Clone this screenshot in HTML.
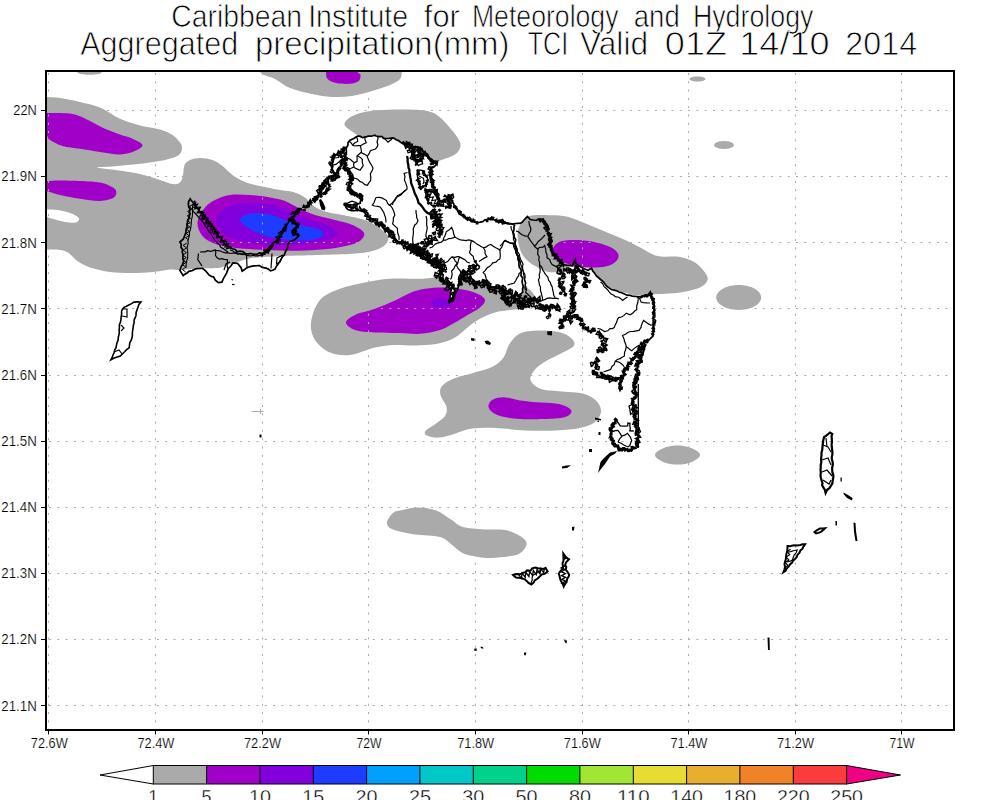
<!DOCTYPE html><html><head><meta charset="utf-8"><style>html,body{margin:0;padding:0;background:#fff}svg{display:block}text{font-family:"Liberation Sans",sans-serif;fill:#000}</style></head><body>
<svg width="1000" height="800" viewBox="0 0 1000 800">
<rect width="1000" height="800" fill="#fff"/>
<defs><clipPath id="c"><rect x="46" y="71" width="908" height="659"/></clipPath></defs>
<g clip-path="url(#c)">
<path d="M30.0,97.0C32.7,71.7 41.0,96.8 46.0,97.0C51.0,97.2 54.3,97.2 60.0,98.0C65.7,98.8 73.3,100.4 80.0,102.0C86.7,103.6 93.3,104.7 100.0,107.5C106.7,110.3 113.3,115.8 120.0,118.8C126.7,121.8 133.3,123.7 140.0,125.5C146.7,127.3 154.6,127.9 160.0,129.5C165.4,131.1 169.2,132.8 172.5,135.0C175.8,137.2 178.4,140.3 180.0,142.5C181.6,144.7 182.2,145.9 182.0,148.0C181.8,150.1 181.6,153.0 178.8,155.0C175.9,157.0 171.5,158.5 165.0,160.0C158.5,161.5 148.3,162.7 140.0,163.8C131.7,164.8 122.2,165.6 115.0,166.2C107.8,166.9 97.0,166.9 97.0,167.5C97.0,168.1 107.8,168.9 115.0,170.0C122.2,171.1 132.5,172.3 140.0,174.0C147.5,175.7 154.6,178.3 160.0,180.0C165.4,181.7 169.2,183.6 172.5,184.0C175.8,184.4 178.2,184.0 180.0,182.5C181.8,181.0 182.2,177.9 183.0,175.0C183.8,172.1 183.3,167.5 184.5,165.0C185.7,162.5 187.4,161.2 190.0,160.0C192.6,158.8 196.2,158.0 200.0,158.0C203.8,158.0 208.8,158.7 212.5,160.0C216.2,161.3 219.2,163.5 222.5,166.0C225.8,168.5 228.8,172.3 232.5,175.0C236.2,177.7 240.4,180.2 245.0,182.0C249.6,183.8 254.2,184.7 260.0,186.0C265.8,187.3 274.5,189.0 280.0,190.0C285.5,191.0 288.8,190.8 293.0,192.0C297.2,193.2 301.3,195.0 305.0,197.5C308.7,200.0 311.3,204.6 315.0,207.0C318.7,209.4 322.0,210.6 327.0,212.0C332.0,213.4 338.7,214.2 345.0,215.5C351.3,216.8 359.5,218.1 365.0,220.0C370.5,221.9 374.2,224.3 378.0,227.0C381.8,229.7 386.8,233.0 388.0,236.0C389.2,239.0 387.6,242.5 385.0,245.0C382.4,247.5 377.9,249.5 372.5,251.0C367.1,252.5 361.2,253.1 352.5,253.8C343.8,254.4 330.4,254.7 320.0,255.0C309.6,255.3 297.5,255.5 290.0,255.8C282.5,256.0 280.0,256.2 275.0,256.5C270.0,256.8 264.5,256.9 260.0,257.2C255.5,257.6 251.2,258.1 248.0,258.8C244.8,259.4 243.5,260.1 240.5,261.0C237.5,261.9 233.5,262.9 230.0,264.0C226.5,265.1 224.5,267.0 219.5,267.8C214.5,268.5 206.6,268.1 200.0,268.5C193.4,268.9 185.0,269.8 180.0,270.0C175.0,270.2 174.6,269.2 170.0,269.5C165.4,269.8 159.2,271.4 152.5,272.0C145.8,272.6 137.1,273.0 130.0,273.0C122.9,273.0 116.7,272.9 110.0,272.0C103.3,271.1 95.4,269.3 90.0,267.5C84.6,265.7 81.7,263.8 77.5,261.0C73.3,258.2 70.2,252.9 65.0,251.0C59.8,249.1 51.8,249.8 46.0,249.5C40.2,249.2 32.7,274.4 30.0,249.0C27.3,223.6 27.3,122.3 30.0,97.0Z" fill="#aaaaaa"/>
<path d="M36.0,209.5C37.7,208.2 42.4,209.4 46.0,209.5C49.6,209.6 53.5,209.4 57.5,210.0C61.5,210.6 66.5,211.7 70.0,213.0C73.5,214.3 77.8,216.4 78.8,218.0C79.8,219.6 78.3,221.8 76.0,222.5C73.7,223.2 68.9,222.6 65.0,222.0C61.1,221.4 55.7,219.6 52.5,218.8C49.3,217.9 48.8,217.3 46.0,217.0C43.2,216.7 37.7,218.2 36.0,217.0C34.3,215.8 34.3,210.8 36.0,209.5Z" fill="#fff"/>
<path d="M255.0,55.0C231.0,57.8 256.7,68.0 260.0,72.0C263.3,76.0 270.0,76.3 275.0,79.0C280.0,81.7 283.8,85.5 290.0,88.0C296.2,90.5 305.0,92.5 312.0,94.0C319.0,95.5 325.3,96.7 332.0,97.0C338.7,97.3 345.3,97.0 352.0,96.0C358.7,95.0 365.7,92.8 372.0,91.0C378.3,89.2 385.3,87.0 390.0,85.0C394.7,83.0 398.0,81.3 400.0,79.0C402.0,76.7 401.3,75.0 402.0,71.0C402.7,67.0 428.5,57.7 404.0,55.0C379.5,52.3 279.0,52.2 255.0,55.0Z" fill="#aaaaaa"/>
<path d="M325.0,55.0C319.8,57.7 325.6,67.0 326.0,71.0C326.4,75.0 325.8,76.8 327.5,78.8C329.2,80.8 332.2,82.2 336.0,83.0C339.8,83.8 346.2,84.1 350.0,83.8C353.8,83.4 357.0,82.5 358.8,81.0C360.5,79.5 360.7,76.7 360.5,75.0C360.3,73.3 358.1,74.3 357.5,71.0C356.9,67.7 362.4,57.7 357.0,55.0C351.6,52.3 330.2,52.3 325.0,55.0Z" fill="#a000c8"/>
<path d="M76.0,62.0C71.7,63.7 75.5,69.9 77.0,72.0C78.5,74.1 82.0,74.1 85.0,74.5C88.0,74.9 92.2,74.9 95.0,74.5C97.8,74.1 100.7,74.1 102.0,72.0C103.3,69.9 107.3,63.7 103.0,62.0C98.7,60.3 80.3,60.3 76.0,62.0Z" fill="#aaaaaa"/>
<path d="M344.5,123.8C344.9,121.4 348.2,118.1 352.5,116.0C356.8,113.9 362.9,112.1 370.0,111.0C377.1,109.9 386.7,109.7 395.0,109.5C403.3,109.3 413.3,109.3 420.0,110.0C426.7,110.7 430.4,111.2 435.0,113.8C439.6,116.2 443.8,121.0 447.5,125.0C451.2,129.0 455.3,134.0 457.5,137.5C459.7,141.0 460.8,143.3 460.5,146.0C460.2,148.7 458.6,151.6 456.0,153.8C453.4,155.9 448.8,157.4 445.0,158.8C441.2,160.1 437.2,162.1 433.0,162.0C428.8,161.9 424.7,160.0 420.0,158.0C415.3,156.0 410.0,152.5 405.0,150.0C400.0,147.5 395.0,144.8 390.0,143.0C385.0,141.2 380.0,140.2 375.0,139.0C370.0,137.8 364.2,137.5 360.0,136.0C355.8,134.5 352.6,132.0 350.0,130.0C347.4,128.0 344.1,126.1 344.5,123.8Z" fill="#aaaaaa"/>
<path d="M311.0,322.5C311.8,315.8 315.2,305.6 320.0,300.0C324.8,294.4 332.5,291.7 340.0,288.8C347.5,285.8 356.7,284.2 365.0,282.5C373.3,280.8 380.8,279.4 390.0,278.8C399.2,278.1 411.7,279.0 420.0,278.8C428.3,278.5 433.3,277.6 440.0,277.0C446.7,276.4 451.7,275.2 460.0,275.0C468.3,274.8 480.8,274.8 490.0,276.0C499.2,277.2 508.3,279.7 515.0,282.0C521.7,284.3 526.5,287.0 530.0,290.0C533.5,293.0 536.0,297.1 536.0,300.0C536.0,302.9 534.3,305.8 530.0,307.5C525.7,309.2 515.8,309.2 510.0,310.0C504.2,310.8 500.0,311.0 495.0,312.5C490.0,314.0 484.6,316.2 480.0,318.8C475.4,321.2 471.7,324.4 467.5,327.5C463.3,330.6 460.0,334.8 455.0,337.5C450.0,340.2 444.2,342.4 437.5,343.8C430.8,345.1 422.1,345.3 415.0,345.5C407.9,345.7 401.7,344.7 395.0,345.0C388.3,345.3 382.5,345.8 375.0,347.5C367.5,349.2 357.5,354.2 350.0,355.0C342.5,355.8 335.8,355.0 330.0,352.5C324.2,350.0 318.2,345.0 315.0,340.0C311.8,335.0 310.2,329.2 311.0,322.5Z" fill="#aaaaaa"/>
<path d="M346.0,322.5C346.0,320.0 350.2,317.3 355.0,315.0C359.8,312.7 368.3,311.2 375.0,308.8C381.7,306.3 389.2,303.1 395.0,300.5C400.8,297.9 405.0,295.0 410.0,293.0C415.0,291.0 419.2,289.7 425.0,288.8C430.8,287.8 438.8,287.4 445.0,287.5C451.2,287.6 457.1,288.5 462.5,289.5C467.9,290.5 473.8,292.0 477.5,293.8C481.2,295.5 484.6,297.7 485.0,300.0C485.4,302.3 482.9,305.0 480.0,307.5C477.1,310.0 471.7,312.5 467.5,315.0C463.3,317.5 459.6,320.0 455.0,322.5C450.4,325.0 445.8,328.1 440.0,330.0C434.2,331.9 426.7,333.2 420.0,333.8C413.3,334.2 407.5,333.2 400.0,333.0C392.5,332.8 382.5,333.0 375.0,332.5C367.5,332.0 359.8,331.7 355.0,330.0C350.2,328.3 346.0,325.0 346.0,322.5Z" fill="#a000c8"/>
<path d="M451.0,303.0C451.0,303.8 450.5,304.6 449.7,305.2C448.8,305.9 447.4,306.5 446.0,306.9C444.6,307.3 442.7,307.5 441.0,307.5C439.3,307.5 437.4,307.3 436.0,306.9C434.6,306.5 433.2,305.9 432.3,305.2C431.5,304.6 431.0,303.8 431.0,303.0C431.0,302.2 431.5,301.4 432.3,300.8C433.2,300.1 434.6,299.5 436.0,299.1C437.4,298.7 439.3,298.5 441.0,298.5C442.7,298.5 444.6,298.7 446.0,299.1C447.4,299.5 448.8,300.1 449.7,300.8C450.5,301.4 451.0,302.2 451.0,303.0Z" fill="#8200dc"/>
<path d="M527.6,216.8C532.9,214.3 543.3,215.2 550.0,215.2C556.7,215.2 561.5,215.3 567.6,216.8C573.7,218.3 580.4,221.5 586.8,224.0C593.2,226.5 599.6,229.3 606.0,232.0C612.4,234.7 619.3,237.3 625.2,240.0C631.1,242.7 635.8,245.3 641.2,248.0C646.6,250.7 651.0,254.5 657.5,256.0C664.0,257.5 673.8,255.9 680.0,257.0C686.2,258.1 690.8,259.9 695.0,262.5C699.2,265.1 702.9,269.6 705.0,272.5C707.1,275.4 708.3,277.5 707.5,280.0C706.7,282.5 704.6,285.4 700.0,287.5C695.4,289.6 688.3,291.3 680.0,292.5C671.7,293.7 659.2,293.9 650.0,294.5C640.8,295.1 633.3,296.8 625.0,296.0C616.7,295.2 607.5,292.7 600.0,290.0C592.5,287.3 587.0,282.8 580.0,280.0C573.0,277.2 563.3,274.3 558.0,273.0C552.7,271.7 551.9,273.0 548.4,272.0C544.9,271.0 540.9,269.3 537.2,267.2C533.5,265.1 528.9,262.4 526.0,259.2C523.1,256.0 520.9,252.8 519.6,248.0C518.3,243.2 516.7,235.6 518.0,230.4C519.3,225.2 522.3,219.3 527.6,216.8Z" fill="#aaaaaa"/>
<path d="M552.4,254.4C552.0,252.3 552.5,248.6 554.0,246.4C555.5,244.2 557.3,242.4 561.2,241.3C565.1,240.2 571.3,239.8 577.2,240.0C583.1,240.2 590.8,241.2 596.4,242.4C602.0,243.6 607.2,245.3 610.8,247.2C614.4,249.1 616.9,251.5 618.0,253.6C619.1,255.7 618.7,258.0 617.2,260.0C615.7,262.0 612.7,264.4 609.2,265.6C605.7,266.9 601.2,267.4 596.4,267.5C591.6,267.6 585.5,267.1 580.4,266.4C575.3,265.7 570.0,264.4 566.0,263.2C562.0,262.0 558.7,260.7 556.4,259.2C554.1,257.7 552.8,256.5 552.4,254.4Z" fill="#a000c8"/>
<path d="M197.5,222.5C197.9,217.8 202.1,211.2 205.0,207.5C207.9,203.8 210.8,202.1 215.0,200.0C219.2,197.9 224.2,195.8 230.0,195.0C235.8,194.2 243.3,194.6 250.0,195.0C256.7,195.4 264.2,196.5 270.0,197.5C275.8,198.5 280.0,199.1 285.0,201.0C290.0,202.9 295.0,206.4 300.0,208.8C305.0,211.1 309.2,213.1 315.0,215.0C320.8,216.9 328.8,218.3 335.0,220.0C341.2,221.7 347.7,222.9 352.5,225.0C357.3,227.1 362.3,230.0 363.8,232.5C365.2,235.0 363.3,237.9 361.0,240.0C358.7,242.1 355.2,243.5 350.0,245.0C344.8,246.5 337.5,247.8 330.0,248.8C322.5,249.7 313.3,250.2 305.0,250.5C296.7,250.8 288.3,250.7 280.0,250.5C271.7,250.3 262.9,250.0 255.0,249.5C247.1,249.0 239.2,248.5 232.5,247.5C225.8,246.5 220.0,245.7 215.0,243.8C210.0,241.8 205.4,239.5 202.5,236.0C199.6,232.5 197.1,227.2 197.5,222.5Z" fill="#a000c8"/>
<path d="M216.0,220.0C216.2,216.1 220.4,211.7 224.0,209.0C227.6,206.3 231.9,205.0 237.5,204.0C243.1,203.0 250.8,202.7 257.5,203.0C264.2,203.3 271.2,204.2 277.5,206.0C283.8,207.8 288.8,211.5 295.0,214.0C301.2,216.5 309.2,219.0 315.0,221.0C320.8,223.0 326.2,224.1 330.0,226.0C333.8,227.9 337.5,230.3 337.5,232.5C337.5,234.7 334.6,237.2 330.0,239.0C325.4,240.8 317.5,242.0 310.0,243.0C302.5,244.0 293.3,244.8 285.0,245.0C276.7,245.2 267.9,244.8 260.0,244.0C252.1,243.2 243.8,241.9 237.5,240.0C231.2,238.1 226.1,235.8 222.5,232.5C218.9,229.2 215.8,223.9 216.0,220.0Z" fill="#8200dc"/>
<path d="M240.0,220.0C239.6,217.9 242.5,216.2 245.0,215.0C247.5,213.8 250.8,213.1 255.0,213.0C259.2,212.9 265.0,213.3 270.0,214.5C275.0,215.7 279.6,218.2 285.0,220.0C290.4,221.8 297.1,224.0 302.5,225.5C307.9,227.0 314.0,227.4 317.5,228.8C321.0,230.1 323.8,232.1 323.8,233.8C323.8,235.4 321.5,237.6 317.5,238.8C313.5,239.9 306.2,240.5 300.0,240.5C293.8,240.5 286.2,239.7 280.0,238.8C273.8,237.8 267.9,236.9 262.5,235.0C257.1,233.1 251.2,230.0 247.5,227.5C243.8,225.0 240.4,222.1 240.0,220.0Z" fill="#1e3cff"/>
<path d="M36.0,113.0C37.7,109.7 42.0,113.0 46.0,113.0C50.0,113.0 55.2,112.8 60.0,113.0C64.8,113.2 70.0,113.2 75.0,114.5C80.0,115.8 85.0,118.6 90.0,121.0C95.0,123.4 100.0,126.5 105.0,128.8C110.0,131.0 115.4,132.8 120.0,134.5C124.6,136.2 128.8,137.0 132.5,138.8C136.2,140.5 142.1,143.0 142.5,145.0C142.9,147.0 138.8,149.4 135.0,151.0C131.2,152.6 125.8,154.3 120.0,154.5C114.2,154.7 106.7,153.0 100.0,152.0C93.3,151.0 86.2,149.8 80.0,148.8C73.8,147.8 67.5,147.5 62.5,146.0C57.5,144.5 52.8,141.8 50.0,140.0C47.2,138.2 48.3,136.2 46.0,135.0C43.7,133.8 37.7,136.7 36.0,133.0C34.3,129.3 34.3,116.3 36.0,113.0Z" fill="#a000c8"/>
<path d="M36.0,181.0C37.7,179.5 42.0,181.1 46.0,181.0C50.0,180.9 54.3,180.5 60.0,180.5C65.7,180.5 73.3,180.7 80.0,181.0C86.7,181.3 95.0,181.7 100.0,182.5C105.0,183.3 107.3,184.7 110.0,186.0C112.7,187.3 115.4,188.6 116.0,190.5C116.6,192.4 116.4,195.8 113.8,197.5C111.1,199.2 105.6,200.8 100.0,201.0C94.4,201.2 86.7,199.8 80.0,198.8C73.3,197.8 65.7,196.3 60.0,195.0C54.3,193.7 50.0,191.8 46.0,191.0C42.0,190.2 37.7,191.7 36.0,190.0C34.3,188.3 34.3,182.5 36.0,181.0Z" fill="#a000c8"/>
<path d="M509.5,344.0C512.2,340.0 515.2,335.8 520.0,333.5C524.8,331.2 531.5,330.8 538.0,330.5C544.5,330.2 553.5,330.8 559.0,332.0C564.5,333.2 568.5,335.8 571.0,338.0C573.5,340.2 575.5,343.0 574.0,345.5C572.5,348.0 566.5,350.5 562.0,353.0C557.5,355.5 551.5,357.8 547.0,360.5C542.5,363.2 537.8,366.2 535.0,369.5C532.2,372.8 529.5,376.8 530.5,380.0C531.5,383.2 535.8,387.1 541.0,389.0C546.2,390.9 555.0,390.6 562.0,391.4C569.0,392.1 577.2,391.9 583.0,393.5C588.8,395.1 593.5,398.0 596.5,401.0C599.5,404.0 601.2,408.0 601.0,411.5C600.8,415.0 598.5,419.2 595.0,422.0C591.5,424.8 586.5,426.6 580.0,428.0C573.5,429.4 565.0,430.0 556.0,430.4C547.0,430.8 536.0,430.8 526.0,430.4C516.0,430.0 505.0,428.3 496.0,428.0C487.0,427.7 479.0,427.6 472.0,428.6C465.0,429.6 459.5,432.5 454.0,434.0C448.5,435.5 443.5,437.4 439.0,437.6C434.5,437.9 429.2,436.6 427.0,435.5C424.8,434.4 424.0,433.0 425.5,431.0C427.0,429.0 432.8,426.0 436.0,423.5C439.2,421.0 443.2,418.8 445.0,416.0C446.8,413.2 447.2,410.5 446.5,407.0C445.8,403.5 441.2,398.5 440.5,395.0C439.8,391.5 439.8,388.8 442.0,386.0C444.2,383.2 448.5,380.8 454.0,378.5C459.5,376.2 468.5,374.5 475.0,372.5C481.5,370.5 488.2,369.0 493.0,366.5C497.8,364.0 500.8,361.2 503.5,357.5C506.2,353.8 506.8,348.0 509.5,344.0Z" fill="#aaaaaa"/>
<path d="M488.5,405.5C488.8,403.5 490.2,400.9 493.0,399.5C495.8,398.1 500.5,397.2 505.0,397.4C509.5,397.5 514.0,399.5 520.0,400.4C526.0,401.2 534.5,401.9 541.0,402.5C547.5,403.1 554.2,403.0 559.0,404.0C563.8,405.0 567.5,407.0 569.5,408.5C571.5,410.0 572.0,411.5 571.0,413.0C570.0,414.5 568.0,416.5 563.5,417.5C559.0,418.5 551.2,418.8 544.0,419.0C536.8,419.2 527.0,419.4 520.0,419.0C513.0,418.6 506.8,417.9 502.0,416.6C497.2,415.4 493.8,413.4 491.5,411.5C489.2,409.6 488.2,407.5 488.5,405.5Z" fill="#a000c8"/>
<path d="M387.0,522.0C387.5,519.5 390.8,514.9 393.0,513.0C395.2,511.1 395.8,511.4 400.0,510.5C404.2,509.6 412.0,507.5 418.0,507.5C424.0,507.5 430.5,508.5 436.0,510.5C441.5,512.5 446.5,516.8 451.0,519.5C455.5,522.2 457.5,525.4 463.0,527.0C468.5,528.6 477.0,528.9 484.0,529.4C491.0,529.9 499.0,528.9 505.0,530.0C511.0,531.1 516.4,533.7 520.0,536.0C523.6,538.3 526.8,541.0 526.6,544.0C526.4,547.0 522.9,551.8 518.8,554.0C514.6,556.2 506.9,556.3 502.0,557.0C497.1,557.7 493.5,558.0 489.5,558.0C485.5,558.0 482.5,557.8 478.0,557.0C473.5,556.2 467.0,555.2 462.5,553.0C458.0,550.8 454.8,546.7 451.0,544.0C447.2,541.3 446.0,538.6 440.0,537.0C434.0,535.4 421.7,535.4 415.0,534.5C408.3,533.6 404.2,532.6 400.0,531.5C395.8,530.4 392.2,529.6 390.0,528.0C387.8,526.4 386.5,524.5 387.0,522.0Z" fill="#aaaaaa"/>
<path d="M761.2,297.5C761.2,299.6 760.1,301.9 758.2,303.8C756.4,305.6 753.2,307.3 750.0,308.3C746.8,309.4 742.5,310.0 738.8,310.0C735.0,310.0 730.7,309.4 727.5,308.3C724.3,307.3 721.1,305.6 719.3,303.8C717.4,301.9 716.2,299.6 716.2,297.5C716.2,295.4 717.4,293.1 719.3,291.2C721.1,289.4 724.3,287.7 727.5,286.7C730.7,285.6 735.0,285.0 738.8,285.0C742.5,285.0 746.8,285.6 750.0,286.7C753.2,287.7 756.4,289.4 758.2,291.2C760.1,293.1 761.2,295.4 761.2,297.5Z" fill="#aaaaaa"/>
<path d="M700.0,455.0C700.0,456.3 698.9,457.6 697.0,458.9C695.1,460.2 692.0,462.0 688.8,463.0C685.5,463.9 681.2,464.6 677.5,464.6C673.8,464.6 669.5,463.9 666.2,463.0C663.0,462.0 659.9,460.2 658.0,458.9C656.1,457.6 655.0,456.3 655.0,455.0C655.0,453.7 656.1,452.4 658.0,451.1C659.9,449.8 663.0,448.0 666.2,447.0C669.5,446.1 673.8,445.4 677.5,445.4C681.2,445.4 685.5,446.1 688.8,447.0C692.0,448.0 695.1,449.8 697.0,451.1C698.9,452.4 700.0,453.7 700.0,455.0Z" fill="#aaaaaa"/>
<path d="M705.5,79.0C705.5,79.4 705.1,79.9 704.4,80.2C703.8,80.6 702.7,81.0 701.5,81.2C700.3,81.4 698.8,81.5 697.5,81.5C696.2,81.5 694.7,81.4 693.5,81.2C692.3,81.0 691.2,80.6 690.6,80.2C689.9,79.9 689.5,79.4 689.5,79.0C689.5,78.6 689.9,78.1 690.6,77.8C691.2,77.4 692.3,77.0 693.5,76.8C694.7,76.6 696.2,76.5 697.5,76.5C698.8,76.5 700.3,76.6 701.5,76.8C702.7,77.0 703.8,77.4 704.4,77.8C705.1,78.1 705.5,78.6 705.5,79.0Z" fill="#aaaaaa"/>
<path d="M734.0,145.0C734.0,145.7 733.5,146.4 732.7,147.0C731.8,147.6 730.4,148.1 729.0,148.5C727.6,148.8 725.7,149.0 724.0,149.0C722.3,149.0 720.4,148.8 719.0,148.5C717.6,148.1 716.2,147.6 715.3,147.0C714.5,146.4 714.0,145.7 714.0,145.0C714.0,144.3 714.5,143.6 715.3,143.0C716.2,142.4 717.6,141.9 719.0,141.5C720.4,141.2 722.3,141.0 724.0,141.0C725.7,141.0 727.6,141.2 729.0,141.5C730.4,141.9 731.8,142.4 732.7,143.0C733.5,143.6 734.0,144.3 734.0,145.0Z" fill="#aaaaaa"/>
<g stroke="#aaaaaa" stroke-width="1" fill="none">
<path d="M48.5,73V730" stroke-dasharray="2 6.3"/>
<path d="M155.5,73V730" stroke-dasharray="2 6.3"/>
<path d="M262.5,73V730" stroke-dasharray="2 6.3"/>
<path d="M368.5,73V730" stroke-dasharray="2 6.3"/>
<path d="M475.5,73V730" stroke-dasharray="2 6.3"/>
<path d="M582.5,73V730" stroke-dasharray="2 6.3"/>
<path d="M688.5,73V730" stroke-dasharray="2 6.3"/>
<path d="M795.5,73V730" stroke-dasharray="2 6.3"/>
<path d="M901.5,73V730" stroke-dasharray="2 6.3"/>
<path d="M49,110.5H954" stroke-dasharray="2 6.3"/>
<path d="M49,176.5H954" stroke-dasharray="2 6.3"/>
<path d="M49,242.5H954" stroke-dasharray="2 6.3"/>
<path d="M49,308.5H954" stroke-dasharray="2 6.3"/>
<path d="M49,375.5H954" stroke-dasharray="2 6.3"/>
<path d="M49,441.5H954" stroke-dasharray="2 6.3"/>
<path d="M49,507.5H954" stroke-dasharray="2 6.3"/>
<path d="M49,573.5H954" stroke-dasharray="2 6.3"/>
<path d="M49,639.5H954" stroke-dasharray="2 6.3"/>
<path d="M49,705.5H954" stroke-dasharray="2 6.3"/>
</g>
<path d="M348.0,142.5L357.0,135.8L366.0,137.2L374.2,134.7L384.0,138.0L394.5,138.8L403.5,143.2L411.0,147.0L420.0,148.5L427.5,155.2L433.5,162.0L436.5,165.0L432.0,168.0L430.5,177.0L433.5,186.0L438.0,198.0L444.0,203.0L449.2,195.0L452.0,201.0L454.5,205.5L459.5,213.5L467.0,218.8L477.5,222.5L488.0,219.5L498.5,221.0L507.5,224.0L514.0,224.5L514.0,232.0L516.0,246.0L519.0,262.0L522.0,278.0L523.0,292.0L515.0,296.0L506.0,292.0L500.0,288.0L491.0,286.0L485.0,282.0L476.0,283.0L470.0,276.0L476.0,266.0L467.0,272.0L459.5,279.5L458.0,290.0L453.5,296.0L449.8,302.8L451.0,290.0L447.5,282.5L440.0,278.0L440.0,267.5L434.0,260.0L423.5,258.5L413.0,251.0L402.5,244.2L392.0,237.5L383.0,227.0L375.0,220.5L367.5,216.0L363.0,210.0L348.0,210.0L345.0,205.5L360.0,204.0L361.5,196.5L352.5,193.5L349.5,184.5L352.5,177.0L345.8,168.0L345.0,156.0Z" fill="#fff"/>
<path d="M562.0,272.0L567.6,266.8L577.2,267.0L582.0,267.6L590.0,268.8L596.4,276.8L606.0,284.8L615.6,291.2L625.2,292.8L638.0,296.0L647.6,296.0L650.0,292.8L652.4,300.8L654.8,312.0L654.0,328.0L653.8,332.5L645.0,342.5L640.0,355.0L631.0,368.0L622.0,385.0L620.0,377.5L607.5,380.0L595.0,375.0L593.8,362.5L600.0,350.0L597.5,332.5L582.5,327.5L575.0,315.0L570.8,302.4L570.8,283.2Z" fill="#fff"/>
<g fill="none" stroke="#000" stroke-linejoin="miter">
<path d="M141.0,302.0L137.2,301.9L133.9,302.1L131.5,303.6L128.8,305.0L126.5,306.2L124.3,307.1L122.4,309.1L121.6,311.2L121.6,314.7L121.1,316.9L121.0,319.3L120.4,322.3L119.4,324.6L119.4,327.8L119.1,330.1L119.3,332.4L119.0,334.6L118.3,337.2L118.2,339.9L117.1,342.6L116.5,344.8L116.0,347.7L114.7,350.1L114.0,352.8L113.2,354.5L112.5,356.7L110.9,359.8L113.7,358.3L116.5,357.3L120.3,356.1L122.6,353.7L124.6,351.8L126.6,349.6L129.1,347.9L129.5,345.2L129.8,342.7L131.1,340.5L132.1,337.3L132.4,335.2L132.4,332.5L132.8,329.6L133.1,327.8L133.5,324.7L134.1,322.9L134.1,319.9L135.1,317.9L136.0,315.4L136.1,312.4L136.8,310.4L138.0,307.2L138.9,304.5Z" stroke-width="1.6"/>
<path d="M123.0,309.0L127.0,309.0L127.0,317.0L122.0,316.0" stroke-width="1.2"/>
<path d="M114.0,352.0L119.0,350.0L122.0,354.0" stroke-width="1.2"/>
<path d="M121.0,325.0L124.0,328.0L121.0,331.0" stroke-width="1.2"/>
<path d="M190.2,198.8L191.6,201.0L193.9,202.9L194.8,205.4L196.8,207.8L199.1,210.1L200.0,212.2L202.2,213.2L204.6,216.1L206.5,217.9L207.8,219.9L209.4,222.7L211.4,224.4L213.1,226.8L214.8,228.9L215.8,231.3L217.4,233.8L218.8,236.8L221.2,238.0L222.2,240.5L223.8,242.5L226.5,245.4L228.0,246.3L229.4,247.4L232.3,248.7L235.5,249.5L236.8,251.6L240.2,251.1L242.8,251.6L245.4,253.5L248.5,253.8L250.7,253.5L253.5,254.2L257.0,254.4L259.3,252.9L262.4,253.3L265.0,252.4L267.4,250.3L269.1,248.0L271.8,245.3L273.3,243.2L275.7,241.3L278.6,238.4L280.1,236.7L281.6,233.3L282.1,230.6L283.6,228.1L285.7,226.6L287.5,223.5L288.7,221.9L289.4,219.7L292.1,217.9L294.9,220.5L295.5,223.2L297.3,225.4L296.7,227.4L294.4,230.6L293.3,232.0L295.1,233.5L298.8,235.9L295.5,239.0L293.7,240.2L289.8,241.6L288.0,243.8L287.7,247.7L286.0,250.6L284.9,253.0L284.5,254.6L282.2,257.2L280.6,260.1L279.2,262.4L277.5,265.1L276.3,266.4L275.1,269.1L272.6,270.2L270.5,270.8L268.3,269.0L265.9,268.1L262.3,267.4L259.5,265.5L257.3,265.7L253.8,265.9L251.1,266.4L248.2,267.3L246.1,268.2L244.6,269.6L242.1,271.1L241.1,267.7L239.2,265.4L237.5,263.3L232.9,263.0L231.2,265.5L229.8,267.2L228.4,268.2L227.1,271.6L226.7,273.0L225.0,275.9L223.4,278.6L221.9,282.2L218.4,282.6L215.3,280.1L213.7,277.0L212.0,276.7L209.1,275.1L207.4,273.0L205.9,271.2L202.5,268.4L200.0,268.5L196.6,268.7L194.8,269.2L192.1,270.6L188.8,271.3L187.4,272.7L184.4,274.5L183.2,275.7L181.1,272.2L179.9,270.4L181.2,266.5L182.4,264.6L183.9,260.7L182.8,258.6L183.1,255.3L182.2,251.4L182.5,249.3L181.0,247.4L181.3,244.5L179.9,242.0L183.4,239.0L184.8,235.3L185.7,233.1L186.2,229.0L187.1,226.5L187.1,223.8L187.6,221.2L188.5,218.7L189.5,215.7L189.6,212.5L189.8,209.3L188.7,206.3L188.3,204.1L188.7,201.3Z" stroke-width="1.7"/>
<path d="M195.1,200.5L192.2,205.3L197.7,204.1L194.7,208.9L200.3,207.6L197.3,212.4L202.8,211.2L199.9,216.0L205.4,214.8L202.5,219.6L208.0,218.3L205.0,223.2L210.5,221.9L207.6,226.7L213.1,225.5" stroke-width="1.1"/>
<path d="M213.0,225.3L210.6,230.5L216.1,229.0L213.8,234.2L219.3,232.6L216.9,237.9L222.5,236.3L220.1,241.5L225.6,240.0L223.3,245.2L228.8,243.6L226.4,248.9L232.0,247.3" stroke-width="1.1"/>
<path d="M196.1,201.5L193.9,207.3L200.1,207.0L197.9,212.9L204.1,212.6L201.9,218.4L208.1,218.1L205.9,224.0L212.1,223.7L209.9,229.5" stroke-width="1.1"/>
<path d="M214.0,226.3L212.1,232.2L218.2,231.3L216.4,237.2L222.5,236.3L220.6,242.2L226.7,241.3L224.9,247.2L231.0,246.3" stroke-width="1.1"/>
<path d="M188.0,206.0L190.3,207.7L192.3,209.9L194.0,212.3L195.9,214.0L197.9,216.4L199.4,218.3L201.4,220.1L202.9,221.9L204.1,224.0L205.7,226.7L207.3,228.5L208.7,231.3L210.8,233.4L211.8,235.3L213.3,237.7L214.7,240.0L216.8,242.7L219.4,244.7L220.8,247.4L223.2,248.6L225.3,250.2L228.0,252.0" stroke-width="1.2"/>
<path d="M192.5,206.0L192.6,209.0L192.5,212.0L192.5,214.8L192.1,217.4L191.5,219.5L191.3,222.2L191.1,225.0L190.8,227.7L190.2,230.4L189.4,232.3L189.5,234.6L188.8,237.6L187.8,240.3L188.3,242.6L187.7,245.3L187.1,247.6L187.5,250.5L187.8,253.1L187.6,255.8L187.7,258.2L186.9,260.0L186.4,262.9L186.0,265.8L186.0,268.0" stroke-width="1.1"/>
<path d="M191.8,205.2L188.0,207.0L191.4,209.5L187.6,211.4L191.0,213.9L187.3,215.8L190.7,218.3L186.9,220.2L190.3,222.7L186.5,224.5L189.9,227.0L186.1,228.9L189.5,231.4L185.8,233.3L189.2,235.8L185.4,237.7L188.8,240.2" stroke-width="1.0"/>
<path d="M186.8,243.1L183.1,245.4L186.6,247.9L183.0,250.2L186.5,252.7L182.8,255.0L186.3,257.6L182.6,259.9L186.1,262.4L182.5,264.7L186.0,267.2L182.3,269.5L185.8,272.1" stroke-width="1.0"/>
<path d="M200.0,252.0L202.6,251.9L205.2,251.8L207.5,250.6L210.4,251.3L212.5,250.8L215.2,249.9L215.8,252.7L215.4,255.2L216.8,257.6L219.5,259.0L221.7,258.6L224.3,259.4L227.4,259.7L227.4,261.9L227.0,265.2L227.8,268.5" stroke-width="1.2"/>
<path d="M215.0,250.5L217.8,250.7L220.1,250.8L221.9,251.7L225.2,252.8L227.7,252.7L230.0,253.5L232.5,253.0L235.6,253.2L238.2,254.4L239.3,253.8L242.9,254.6L245.0,254.0" stroke-width="1.2"/>
<path d="M246.5,254.0L247.0,267.0" stroke-width="1.2"/>
<path d="M272.0,253.5L271.0,268.5" stroke-width="1.2"/>
<path d="M198.5,253.5L197.8,259.5L202.0,266.0" stroke-width="1.2"/>
<path d="M283.0,255.0L277.0,258.0L276.5,264.0L280.0,262.0L283.0,255.0" stroke-width="1.2"/>
<path d="M230.0,250.0L232.6,250.8L235.0,252.4L237.7,253.1L240.1,253.6L243.5,253.9L245.8,254.9L248.4,255.7L250.2,256.0L253.0,255.3L255.0,255.9L258.0,255.8L260.3,255.2L263.1,255.0L266.0,254.0" stroke-width="1.2"/>
<path d="M263.3,253.8L261.8,256.0L260.7,254.1ZM265.9,249.9L266.7,252.6L264.4,253.4L263.9,250.2ZM268.6,250.5L268.3,253.1L267.0,251.9ZM267.4,249.3L268.6,248.2L270.5,249.3L268.9,251.5ZM270.5,248.9L269.2,249.6L268.6,248.0L269.4,246.7L271.0,247.4ZM271.5,248.1L269.6,246.3L271.0,245.3L272.5,246.6ZM273.4,245.4L271.9,245.0L271.9,244.0L273.3,243.8ZM278.6,243.4L274.6,242.0L277.4,240.7ZM279.8,239.4L279.8,240.8L277.4,240.9L277.6,238.9L279.3,238.5ZM275.8,237.0L279.0,235.8L279.2,237.8L276.9,238.2ZM280.8,237.2L279.9,236.8L280.9,235.5L281.7,236.7ZM282.8,233.7L279.8,234.8L278.6,233.2L280.9,231.6ZM283.5,232.2L282.6,231.5L282.8,230.0L283.9,230.1L284.7,230.6ZM285.9,229.0L285.8,230.8L283.7,230.3L283.4,229.3ZM286.5,227.1L286.1,228.5L285.4,228.2L284.5,227.1L284.8,226.7ZM286.7,225.4L285.1,226.2L285.0,224.2L286.7,224.0Z" stroke-width="1.3"/>
<path d="M224.0,270.0L226.0,264.0L230.0,262.0" stroke-width="1.2"/>
<path d="M231.5,279.5L233.0,280.0" stroke-width="1.2"/>
<path d="M232.0,284.5L234.5,284.5" stroke-width="1.2"/>
<path d="M292.4,218.3L291.5,218.2L291.4,217.0L292.2,216.6L292.9,217.4ZM294.1,215.5L294.8,216.0L293.8,216.9L293.2,216.1ZM295.1,212.9L291.4,214.1L292.7,211.7ZM297.8,213.8L295.8,214.7L293.7,213.5L296.2,210.8ZM298.4,212.7L296.9,211.8L298.6,210.4L299.1,212.3ZM299.1,211.0L297.1,210.6L296.7,209.3L298.7,208.5L299.3,209.7ZM300.7,210.0L299.4,209.2L299.8,208.5L301.4,208.6L301.7,209.3ZM304.8,209.2L305.3,210.3L304.4,210.5L303.3,209.9L304.0,209.4ZM305.2,207.6L302.8,207.3L303.8,205.2ZM306.9,205.6L307.6,207.3L305.9,207.9L304.5,206.1ZM307.0,205.2L309.4,205.1L309.2,206.8L306.7,206.4ZM307.8,202.4L309.8,203.0L309.5,203.9L307.9,204.5ZM309.8,203.0L311.2,202.7L311.0,204.4ZM311.9,202.3L309.4,201.3L310.3,199.5ZM314.1,199.6L313.0,199.7L312.6,198.8L313.2,198.4L314.0,198.5ZM315.6,200.5L314.2,200.3L314.0,199.2L315.2,198.9ZM314.3,196.7L316.2,196.7L315.9,198.5L314.2,199.2Z" stroke-width="1.4"/>
<path d="M290.9,218.3L291.2,219.1L290.2,220.9L288.4,219.9L288.9,218.7ZM294.0,220.7L291.5,220.6L292.8,218.2ZM292.3,223.9L291.8,222.8L292.2,222.0L293.5,222.5L293.8,223.3ZM296.0,224.6L295.0,224.2L294.8,223.4L296.2,222.9L296.3,224.0ZM299.3,224.2L298.1,226.2L296.8,225.1L298.1,223.0ZM296.2,227.6L295.9,226.4L297.5,225.6L298.2,227.5ZM294.8,227.9L296.2,228.7L294.9,230.5L293.4,229.8ZM295.8,232.1L295.5,231.2L296.1,230.7L296.6,231.7ZM294.3,232.9L292.2,233.0L291.8,231.9L292.5,230.1L294.1,230.5ZM294.7,235.1L293.0,235.4L292.4,233.0L294.9,233.1ZM297.9,233.7L298.7,234.7L297.7,236.1L297.0,235.0L297.0,233.6Z" stroke-width="1.4"/>
<path d="M315.7,200.5L314.8,202.4L312.6,200.3L314.0,199.9ZM314.3,200.6L313.9,199.0L315.6,196.9L316.7,199.7ZM316.5,199.9L315.8,198.4L316.8,197.5L317.9,198.2L317.5,199.7ZM318.2,194.8L319.1,196.7L318.1,197.5L316.8,196.0ZM319.4,193.1L320.1,193.8L319.8,194.6L318.7,194.0ZM319.9,191.9L318.6,193.6L316.6,190.7L318.6,189.2L319.7,190.3ZM320.6,193.2L320.4,191.8L321.7,191.5L321.6,193.1ZM322.1,189.6L321.0,190.6L319.0,190.1L320.0,187.7L321.4,187.8ZM323.8,187.8L321.1,188.7L321.3,186.3ZM324.8,184.5L326.2,186.1L322.5,187.3L322.2,184.2ZM324.9,185.1L324.7,185.9L324.1,186.2L323.5,185.5L324.2,184.5ZM325.3,183.3L325.6,180.6L327.1,182.6Z" stroke-width="1.4"/>
<path d="M318.4,193.8L318.3,192.1L320.2,191.6L320.3,193.5ZM321.3,190.7L319.2,190.2L319.4,188.9L321.3,189.0ZM322.1,189.9L320.2,188.8L321.3,187.4L323.0,187.6L323.5,188.7ZM321.1,186.3L320.1,187.5L319.0,187.0L319.3,185.7L320.6,185.7ZM321.3,185.1L322.0,183.8L322.7,185.5ZM324.5,183.8L323.6,184.7L322.5,183.6L322.2,182.9L324.0,182.8ZM322.8,182.8L324.4,181.0L325.6,182.7L323.7,183.8ZM326.7,183.1L327.0,182.0L327.7,182.1L327.7,183.2ZM326.5,181.3L328.3,180.0L328.7,182.9L326.6,182.4ZM326.4,183.7L327.1,183.0L327.9,183.6L326.9,184.4ZM328.6,185.3L328.5,184.7L329.1,184.2L329.9,184.3L329.6,185.4ZM328.8,185.4L330.5,186.7L328.8,187.5ZM327.9,188.7L330.2,189.1L327.8,190.9ZM328.4,189.0L327.8,190.8L325.9,190.0L326.9,187.8ZM325.8,190.7L326.9,192.9L325.2,193.1ZM324.5,192.9L326.2,193.4L325.5,194.5L323.8,193.9ZM323.5,194.4L322.1,193.6L323.9,192.4ZM322.1,196.4L320.9,197.3L319.9,195.8L321.3,194.6Z" stroke-width="1.4"/>
<path d="M325.5,179.3L325.8,181.5L324.0,180.8ZM328.1,180.1L326.7,178.9L327.9,177.5L329.2,178.5ZM328.0,178.4L327.0,177.3L328.7,177.1ZM330.0,178.2L328.9,176.3L330.4,175.9ZM332.8,175.5L333.2,177.9L331.7,177.4L330.9,176.0ZM334.5,174.9L334.3,176.8L332.6,176.3ZM335.0,175.2L335.9,173.9L336.9,174.6L336.8,176.3ZM335.2,173.9L333.6,173.9L334.4,172.9ZM335.3,178.2L334.7,175.1L337.0,176.8ZM337.1,178.1L338.6,174.9L339.5,177.4ZM335.2,180.2L333.7,179.9L334.0,178.4L336.1,178.6ZM332.6,179.7L334.5,180.3L333.0,181.2ZM331.1,180.9L331.5,178.7L332.7,179.3L333.2,180.8Z" stroke-width="1.4"/>
<path d="M333.0,172.0L332.4,169.1L332.2,164.2L332.8,162.1L333.7,158.1L334.6,156.1L337.6,153.3L341.7,151.7L340.6,154.8L342.2,156.8L342.5,160.8L340.9,162.9L341.0,165.3L339.5,167.6L338.5,171.5L335.9,173.3Z" stroke-width="1.5"/>
<path d="M333.0,165.0L335.9,164.4L337.6,163.1L341.0,160.0" stroke-width="1.2"/>
<path d="M334.0,158.0L338.6,157.5L339.0,152.5" stroke-width="1.2"/>
<path d="M339.9,153.5L337.6,152.7L338.4,150.6L340.2,152.2ZM341.2,148.9L343.1,149.1L342.6,151.0L340.8,152.1ZM344.1,148.5L344.0,150.3L342.3,149.5L343.0,147.9ZM344.1,147.1L345.6,147.3L345.1,148.2Z" stroke-width="1.4"/>
<path d="M348.0,142.5L350.1,140.2L353.2,138.7L354.9,137.7L357.7,136.0L359.8,136.2L362.5,137.5L366.8,136.8L368.0,136.0L371.3,136.2L374.9,135.2L376.0,136.0L379.5,136.6L382.3,136.5L383.4,138.4L387.3,138.5L388.9,138.5L392.3,137.9L394.2,138.4L396.1,139.8L398.5,140.6L400.7,142.4L402.7,143.6L405.5,143.8L409.2,145.3L411.7,147.6L414.6,146.9L416.9,147.4L420.7,149.0L422.1,150.1L423.5,152.4L425.6,153.8L426.9,154.8L428.8,157.8L431.6,159.2L434.1,161.6L436.4,164.4L433.9,167.0L431.7,167.5L431.5,170.7L431.6,173.4L431.3,176.3L432.1,180.3L432.0,183.0L433.2,185.6L433.9,188.2L436.1,191.6L436.9,192.6L436.8,196.2L437.3,198.4L439.7,200.4L441.2,201.8L443.7,202.4L445.0,200.9L447.5,197.2L449.1,195.7L450.2,198.1L451.4,200.5L453.7,203.6L454.0,204.8L455.5,208.3L457.8,210.5L459.0,213.7L462.3,215.7L464.6,216.5L466.3,219.1L469.5,220.0L471.5,221.1L474.6,222.1L478.1,222.5L479.3,222.4L482.7,221.6L485.0,219.7L488.5,219.3L490.1,219.7L493.4,219.5L495.9,220.5L498.5,220.4L501.8,222.5L505.1,222.7L507.8,223.8L511.2,223.5L514.6,225.2L514.0,227.0L514.0,229.6L513.2,232.7L514.0,234.3L514.2,237.2L515.7,239.6L515.0,243.5L515.5,245.2L516.7,248.8L517.0,251.7L516.9,254.6L518.3,255.9L517.9,259.3L519.0,261.6L518.9,264.5L519.4,267.5L521.1,269.4L521.1,273.1L521.0,275.9L522.7,277.8L522.1,281.3L522.4,283.4L523.3,286.8L522.5,288.8L522.7,291.9L521.1,293.8L518.3,295.2L515.6,295.3L512.0,295.4L509.7,292.9L505.9,292.2L502.8,290.0L499.3,287.9L497.0,286.6L493.4,287.4L491.4,286.7L488.2,284.5L485.6,282.6L481.3,282.6L478.6,283.0L475.6,283.1L474.7,280.9L471.6,278.4L469.9,276.7L471.2,273.2L473.2,270.4L474.7,269.2L476.0,265.6L473.7,267.6L470.9,268.4L468.7,270.2L466.9,271.7L464.7,273.2L463.3,276.3L461.6,277.7L459.7,279.0L459.5,282.1L458.8,284.9L458.3,287.1L457.6,289.6L456.5,291.8L455.1,293.2L453.3,296.6L451.8,298.3L451.0,300.2L450.5,302.4L450.4,299.7L449.6,298.2L450.4,294.4L450.6,292.5L451.4,289.4L449.4,288.2L449.0,284.4L447.2,282.3L445.3,281.2L443.1,280.0L440.0,278.4L440.4,275.8L440.0,273.2L440.3,270.8L439.4,268.1L437.2,265.4L436.1,262.5L434.7,260.1L431.2,260.1L429.3,259.4L425.9,258.8L423.4,258.9L421.1,256.8L419.4,255.3L416.9,254.5L415.7,252.5L412.9,250.5L410.1,248.7L407.9,247.8L404.5,246.6L402.2,244.8L400.4,243.3L396.8,240.8L395.3,238.4L391.3,237.6L390.2,236.1L388.8,233.4L387.4,231.2L384.8,229.4L382.8,226.8L381.2,225.1L379.7,224.0L377.0,221.5L374.8,220.3L372.6,219.1L370.6,218.2L367.5,215.9L366.2,214.8L364.2,212.0L363.5,209.5L360.2,210.8L358.5,210.0L354.9,210.6L353.3,210.5L351.3,210.6L347.9,209.5L346.2,207.8L345.0,205.0L347.0,205.5L350.2,204.8L353.3,205.0L354.3,204.4L358.0,203.9L360.3,203.2L360.2,202.0L361.1,199.3L361.0,196.5L358.6,195.1L355.7,194.6L353.3,193.6L351.4,189.9L350.0,187.9L348.9,183.9L350.0,182.0L352.0,179.7L353.0,176.3L350.0,175.2L348.8,172.8L347.2,169.7L345.4,167.4L346.2,165.1L345.1,161.9L345.0,158.3L345.6,156.1L346.3,153.2L346.4,150.2L346.1,148.6L348.0,144.9Z" stroke-width="1.7"/>
<path d="M345.0,149.2L344.2,150.4L343.0,149.6L343.4,148.5ZM344.2,151.2L343.0,150.8L343.3,150.0L344.6,150.5ZM342.1,152.5L343.3,151.7L343.9,152.9L342.6,153.5ZM344.1,153.4L345.6,152.7L346.6,154.0L344.9,155.0ZM344.2,154.7L345.0,155.3L344.9,156.6L344.3,156.8L343.4,156.3ZM346.5,158.9L346.2,160.0L343.7,159.0L344.4,157.9L346.1,157.8ZM344.3,161.0L343.0,162.2L341.9,160.4L344.3,159.5ZM343.8,163.2L342.3,162.6L342.5,161.7L344.2,161.8ZM343.6,164.0L342.7,163.6L342.6,163.0L343.5,162.6ZM345.2,164.4L346.6,163.4L347.0,165.1L345.6,165.1ZM345.6,167.1L344.1,168.9L343.1,165.8ZM345.2,170.7L342.9,168.4L345.5,166.9L346.5,169.4ZM347.6,167.5L348.7,168.2L349.0,170.2L347.7,170.1L346.5,169.7ZM347.7,171.7L347.3,170.0L349.7,169.5L349.6,171.3ZM348.5,171.7L350.8,172.8L349.8,174.3L347.7,173.9ZM351.9,173.6L352.9,175.0L352.2,176.2L350.2,176.1L350.7,174.1ZM350.2,176.6L351.9,175.9L352.0,177.1L350.7,177.4ZM352.0,180.3L350.6,181.3L349.9,179.7L350.7,179.0ZM350.4,180.2L350.9,178.1L352.4,178.0L353.1,180.4ZM349.8,182.7L350.0,181.3L350.9,181.0L351.3,182.9ZM346.3,184.4L347.2,182.5L348.5,182.5L350.0,183.5L348.8,185.7ZM350.5,186.9L349.3,187.4L348.5,186.7L349.5,185.7ZM350.6,186.6L350.7,188.5L349.1,188.2L348.9,186.8ZM350.4,190.3L348.7,191.1L347.1,190.0L348.3,188.5ZM352.0,191.4L351.6,193.3L349.9,193.3L349.8,191.8ZM350.9,193.9L351.8,192.9L352.3,194.5L351.1,194.8ZM353.1,194.1L351.9,193.5L352.5,192.3L353.7,192.4L353.6,193.4ZM354.9,192.4L357.1,193.3L354.9,195.6ZM356.6,193.4L357.3,194.1L356.6,194.7L355.9,194.0ZM357.5,194.9L358.8,194.5L360.1,196.3L357.9,197.2ZM359.7,193.8L361.7,194.3L360.4,196.1L359.0,194.8ZM362.7,196.9L361.4,197.4L361.0,196.5L361.8,195.6L362.8,195.6ZM362.7,199.5L362.0,201.2L360.6,199.8L360.0,198.7L362.3,198.3Z" stroke-width="1.3"/>
<path d="M344.9,205.6L343.9,204.9L344.3,203.3L346.0,203.0L346.8,204.8ZM348.2,205.7L347.2,207.1L345.6,205.1L346.2,203.8ZM347.9,206.3L347.5,204.8L350.0,204.5L349.7,205.7ZM350.8,206.0L351.4,207.0L350.4,207.5L349.8,206.8ZM353.3,208.7L351.1,209.4L350.9,208.1L352.3,207.1ZM353.0,207.0L353.6,204.5L354.6,204.1L356.1,205.6L354.8,207.9ZM355.6,208.5L354.6,205.8L356.9,205.2L357.1,207.8ZM356.4,209.5L357.7,208.9L357.7,210.9L356.5,210.6ZM360.6,208.3L359.4,208.0L359.6,206.8ZM361.4,211.3L360.6,209.7L363.0,209.4L363.6,211.7ZM362.3,211.4L360.8,210.3L362.1,209.3L363.5,209.2L363.4,210.6ZM364.2,212.0L364.5,209.2L366.8,210.7ZM366.8,212.1L368.2,213.2L367.1,214.2L365.4,214.5L365.5,213.1ZM367.1,216.8L364.6,216.0L365.8,214.6L367.4,214.9ZM370.6,215.5L369.6,217.2L368.0,217.0L368.1,214.7ZM366.6,219.1L367.0,217.2L369.0,216.7L370.3,218.9L368.9,220.0ZM371.9,219.2L370.1,221.0L368.5,219.4L370.2,217.5ZM372.6,220.0L373.0,221.7L371.7,222.0L369.8,221.2L370.3,219.6ZM374.8,219.5L375.0,221.1L373.6,221.0L373.4,218.9ZM377.7,219.0L377.5,221.2L375.4,220.8L375.2,218.8ZM374.6,222.9L377.2,222.4L376.2,225.1ZM379.0,224.0L377.6,224.4L377.5,223.9L378.4,223.2ZM380.1,224.6L379.3,227.0L378.4,226.4L378.1,225.1L378.6,224.0ZM381.7,224.4L380.4,223.3L381.7,221.9L383.2,224.2ZM383.7,225.2L383.1,226.4L381.8,225.9L381.2,224.7L382.5,224.2ZM385.1,226.5L383.8,226.4L384.7,225.1Z" stroke-width="1.3"/>
<path d="M345.0,204.0L347.2,203.3L349.6,202.1L352.0,201.2L355.0,202.2L358.1,203.8L355.5,206.5L352.6,207.8L349.0,207.4L347.0,205.6Z" stroke-width="1.3"/>
<path d="M408.8,143.2L407.8,145.7L405.8,144.6L406.4,141.5ZM405.4,146.6L406.2,145.6L407.6,147.2L405.7,148.4ZM411.9,145.5L410.8,146.1L409.8,144.5L410.8,144.1L412.3,144.1ZM411.2,146.1L412.9,147.5L411.8,148.8L410.3,147.6ZM411.5,146.1L414.1,146.5L413.1,148.1ZM413.5,149.7L414.0,149.0L415.0,149.1L414.5,150.2ZM414.9,152.4L412.9,151.0L415.6,149.2L416.5,150.4ZM417.4,149.8L419.1,149.1L420.2,149.6L420.1,151.1L418.5,151.2ZM419.0,152.1L420.9,152.8L418.5,154.6ZM420.9,153.7L422.7,153.4L422.0,154.9ZM422.1,153.4L423.6,155.0L421.9,156.6L420.1,155.1L420.5,153.6ZM420.6,157.1L422.0,156.2L423.5,158.8L421.2,158.7ZM421.9,159.5L421.5,161.4L419.1,160.7L419.9,158.5ZM418.1,161.2L417.4,161.9L416.7,160.8L417.5,160.4ZM415.3,160.3L414.1,160.4L414.8,159.0ZM413.7,155.5L414.9,157.7L412.8,158.3L412.1,156.7ZM411.2,156.5L413.1,156.8L413.1,158.7L412.0,159.5L410.1,158.0ZM413.2,154.8L412.0,153.9L411.8,152.5L413.4,152.5Z" stroke-width="1.4"/>
<path d="M403.3,143.8L402.3,142.9L403.2,141.7L404.5,142.6L404.3,143.6ZM404.3,145.0L405.7,144.2L406.8,144.8L405.4,146.9ZM407.2,145.4L406.1,146.2L405.8,145.2ZM408.5,145.4L408.6,146.5L408.0,146.9L407.5,146.1ZM409.4,146.1L410.8,145.6L411.9,145.9L411.3,147.7L409.4,147.0ZM412.5,147.1L410.4,146.4L411.9,145.2ZM414.0,148.8L413.1,149.3L412.4,148.8L412.6,147.6ZM415.7,146.4L417.2,147.6L415.1,147.9ZM418.0,148.7L416.9,147.3L417.8,146.6L419.1,147.3ZM420.2,147.1L420.8,148.7L418.9,148.3ZM421.2,149.3L419.8,149.4L419.4,147.5L421.9,148.3ZM422.3,149.7L423.5,151.7L421.3,151.0ZM424.1,151.4L425.2,151.4L425.0,152.6L423.9,152.9L423.5,152.1ZM425.4,152.7L426.3,154.2L425.0,155.7L423.7,153.8ZM425.3,153.2L426.0,153.1L427.4,154.0L426.5,155.2L425.3,155.3ZM427.3,154.3L428.4,155.2L427.6,156.8L426.4,156.3L426.5,155.1ZM427.7,158.0L427.8,156.6L429.0,156.6L429.7,157.8ZM430.4,158.6L429.6,160.0L428.7,158.9L429.3,157.7ZM430.3,161.6L430.2,160.3L431.6,160.1L431.3,161.5ZM433.6,163.3L432.5,163.5L432.0,162.3L432.8,161.3L434.4,162.0Z" stroke-width="1.4"/>
<path d="M407.0,156.0L407.7,159.1L407.6,161.8L408.3,164.7L408.5,167.7L409.4,169.8L409.4,172.4L409.9,174.8L410.3,177.5L410.9,180.0L411.1,183.0L412.0,185.3L413.2,188.3L414.0,190.8L414.8,193.6L415.8,195.4L416.9,197.6L417.8,200.1L418.5,202.8L420.4,204.6L422.2,206.7L423.7,208.8L425.2,211.0L427.2,212.7L430.2,214.2L432.5,216.0" stroke-width="2.3"/>
<path d="M415.0,155.0L418.5,155.3L420.7,157.0L422.0,160.7L422.6,163.8L420.7,164.3L418.3,165.6L417.1,163.5L415.2,161.7L414.8,158.3Z" stroke-width="1.3"/>
<path d="M417.5,170.0L420.5,170.2L424.5,171.0L424.5,174.0L426.5,175.7L427.4,177.5L427.6,179.9L426.1,183.4L426.3,186.6L423.4,186.8L420.8,189.3L419.8,187.2L419.6,183.7L417.9,181.2L417.9,179.3L417.4,176.2L417.4,173.8Z" stroke-width="1.3"/>
<path d="M419.0,176.0L422.0,177.5L423.4,178.1L424.0,181.5L423.0,184.0" stroke-width="1.2"/>
<path d="M425.0,189.0L428.9,190.4L431.3,189.4L434.1,192.8L434.6,194.5L437.7,197.6L439.2,199.8L440.0,202.7L438.2,204.9L434.3,206.5L431.8,205.4L428.6,202.4L428.4,201.5L426.1,197.3L426.1,195.5L425.4,191.9Z" stroke-width="1.4"/>
<path d="M428.5,190.7L426.7,194.8L431.0,193.7L429.2,197.8L433.5,196.7L431.7,200.8L436.0,199.7L434.2,203.8L438.5,202.7" stroke-width="1.1"/>
<path d="M430.0,169.5L428.1,169.1L428.9,167.0L430.5,167.8ZM430.1,169.8L431.5,169.0L431.9,170.2L431.3,171.1L429.4,170.9ZM430.8,172.8L429.0,172.3L430.6,170.7ZM430.5,174.4L429.1,175.0L429.4,173.0ZM429.9,176.1L429.7,174.6L430.6,173.5L431.9,175.0ZM429.9,177.9L430.2,176.5L431.2,178.1ZM430.2,178.1L432.7,179.6L430.5,180.2ZM432.3,180.7L431.3,181.0L431.1,179.6L432.1,179.3ZM433.6,182.2L432.6,183.7L430.7,182.4ZM431.5,184.0L432.5,184.0L432.6,185.4L431.6,185.1ZM431.7,187.1L431.7,186.3L433.2,185.6L433.1,187.6ZM434.8,188.8L433.1,187.4L434.7,186.7L435.3,187.8ZM434.7,191.2L433.5,191.2L434.5,190.1ZM437.1,190.8L437.0,193.0L435.7,191.4Z" stroke-width="1.4"/>
<path d="M432.4,161.5L435.3,161.0L433.5,163.7ZM437.6,161.3L437.0,164.7L435.5,162.3Z" stroke-width="1.5"/>
<path d="M439.8,204.1L441.0,203.7L441.5,204.2L440.5,205.2L439.9,204.6ZM439.9,206.0L443.4,203.8L443.8,206.2ZM442.5,201.6L441.8,202.3L441.3,202.1L441.2,201.1L442.0,200.6ZM444.8,201.3L446.0,201.2L445.4,202.2ZM443.8,199.3L444.8,199.1L444.9,200.7L443.9,201.3L442.8,200.2ZM446.7,196.9L444.0,196.4L444.9,195.1ZM447.1,196.0L449.1,196.8L447.1,198.6L446.0,197.0ZM452.0,195.5L450.8,198.1L448.6,194.8ZM452.5,198.6L450.4,196.3L450.9,195.1L452.8,194.0L453.6,197.2ZM449.2,199.7L447.7,198.4L450.1,196.1L451.1,198.1ZM449.7,201.4L447.6,201.3L446.9,198.7L449.4,198.5ZM452.8,200.5L452.0,203.1L450.1,203.6L448.8,200.3L450.4,199.9ZM449.1,201.0L450.5,202.1L450.6,204.0L448.3,203.5ZM447.1,203.0L448.8,203.1L448.4,205.3ZM451.2,205.2L450.6,207.1L448.7,206.5L449.6,204.4ZM447.2,207.4L445.7,208.2L445.4,206.7L446.1,206.1ZM448.0,206.1L450.2,205.3L449.9,208.3L447.7,207.6ZM451.3,205.6L450.7,207.9L448.0,206.9L448.4,205.0Z" stroke-width="1.4"/>
<path d="M454.6,206.1L454.4,207.6L453.5,207.2L453.4,206.4L453.7,206.2ZM454.7,207.4L455.1,206.3L455.6,206.0L456.1,206.8L455.5,207.5ZM455.3,207.9L456.7,207.0L457.2,208.6L455.7,208.5ZM457.2,210.8L457.9,209.9L458.7,211.2L458.0,211.8ZM460.0,211.8L459.0,212.1L458.3,210.8L459.9,210.6ZM459.7,212.1L461.2,211.6L461.2,213.0L460.0,213.9L459.2,212.9ZM460.7,214.6L459.4,214.4L459.3,212.7L460.8,212.9L460.9,213.9ZM462.4,214.3L463.7,214.4L464.3,215.6L463.3,216.6L462.5,215.2ZM463.2,214.4L464.7,215.6L463.1,216.9L462.3,215.6ZM465.5,217.7L464.1,218.0L464.1,217.1L464.6,216.2L465.6,216.8ZM468.1,218.9L467.5,220.4L465.6,218.6L466.4,217.7ZM468.7,217.7L468.6,218.4L468.2,219.0L467.2,218.4L467.7,217.3ZM470.1,219.8L469.1,219.7L468.6,218.0L469.6,217.2L471.0,218.7ZM471.1,221.6L471.2,220.6L471.6,220.1L472.3,221.0L472.0,221.7ZM473.2,218.9L474.3,220.3L473.7,221.1L472.6,220.4ZM473.6,221.4L474.8,220.3L474.9,221.9ZM476.4,223.8L476.2,222.0L477.6,222.0L477.8,223.8Z" stroke-width="1.3"/>
<path d="M487.6,219.5L487.8,221.6L486.7,221.6L485.7,220.1ZM488.9,218.7L488.1,219.3L487.9,218.1L488.4,218.0ZM489.0,218.5L490.6,217.8L490.6,219.1ZM493.1,219.1L492.0,218.7L491.7,216.9L493.9,217.4ZM495.6,221.1L494.8,220.0L496.4,219.2ZM497.7,220.8L498.3,222.2L496.3,221.9ZM498.1,220.9L499.6,221.6L498.8,223.1L497.4,222.0ZM501.6,221.9L499.7,222.4L499.8,220.2L501.6,220.8ZM504.5,222.5L502.7,223.8L502.4,221.2L503.5,221.2Z" stroke-width="1.3"/>
<path d="M431.5,214.3L431.8,213.6L433.4,214.2L433.0,215.6L431.9,215.9ZM432.5,216.3L433.4,216.7L433.2,218.6L431.2,218.8L431.1,216.4ZM433.4,216.9L433.2,218.0L432.1,217.2ZM436.7,215.4L439.6,213.9L440.5,216.3L438.4,218.7ZM439.2,218.1L438.4,221.6L435.6,220.0L435.9,217.2L437.5,216.8ZM436.8,221.2L436.3,222.7L435.2,222.5L435.5,220.8ZM437.2,222.2L438.2,222.3L438.2,224.3L436.8,223.6ZM435.0,223.5L435.7,224.8L434.5,225.3L433.5,224.2ZM439.1,223.6L439.6,226.2L438.0,227.0L436.5,224.2ZM440.3,224.3L442.1,224.5L441.7,226.5L440.0,225.4ZM439.6,228.1L438.8,231.1L436.4,230.2L436.2,229.0L438.5,226.4ZM441.4,226.9L443.8,227.6L442.4,230.0L440.6,230.2L439.8,228.0ZM439.8,228.7L442.7,229.5L442.0,233.7ZM440.8,230.7L442.8,232.0L441.3,234.1ZM441.4,234.3L440.0,234.4L439.4,231.5L441.0,231.4ZM437.8,233.2L439.1,232.9L440.1,234.2L438.9,235.2ZM440.0,236.3L439.7,237.5L438.6,236.9ZM432.6,233.0L435.2,232.0L435.5,233.8L434.0,234.7ZM435.4,236.6L435.4,237.9L434.0,237.5ZM435.3,237.3L437.4,240.6L433.3,240.0ZM432.3,238.3L431.8,239.4L430.8,238.6ZM431.6,239.1L428.7,238.3L428.9,235.7L431.6,235.5ZM431.4,239.9L432.5,240.8L431.9,242.7L430.2,242.3L429.7,241.0ZM429.6,243.8L428.7,241.6L431.8,241.4L432.2,244.2ZM428.4,240.2L427.9,242.9L426.0,243.0L424.3,239.5L426.5,238.5ZM425.8,243.9L427.4,241.7L428.7,245.0L427.1,246.3ZM423.9,243.3L426.6,243.0L427.9,244.6L424.6,246.8ZM422.7,243.2L421.9,241.8L423.2,241.8ZM421.6,243.9L420.3,243.0L421.1,242.6L422.7,243.0Z" stroke-width="1.5"/>
<path d="M432.9,209.6L434.8,211.9L430.4,212.1ZM435.2,212.5L434.0,213.1L434.0,211.9ZM431.9,216.5L430.8,217.5L430.6,215.4ZM436.2,214.1L436.8,215.3L435.2,216.0L434.7,214.7ZM434.8,216.1L435.6,215.9L435.5,217.2L434.5,216.8ZM437.6,216.7L437.8,220.3L434.6,218.4ZM436.2,221.9L434.9,218.3L438.4,217.9L438.5,221.8ZM436.9,222.7L435.6,222.6L435.5,220.8L437.4,221.3ZM437.2,221.0L439.9,221.2L439.9,224.6L437.9,225.2L437.1,222.3ZM440.3,223.6L439.3,223.2L440.3,221.9L441.0,222.7Z" stroke-width="1.5"/>
<path d="M375.9,224.1L375.9,222.8L378.0,222.6L378.5,224.7ZM378.4,223.6L378.6,224.6L378.3,225.4L377.2,224.4L377.5,223.5ZM382.0,223.0L380.3,225.4L378.7,224.0L380.1,221.9ZM382.1,226.0L381.3,224.1L383.1,224.3ZM383.1,225.8L383.4,226.5L382.7,227.7L382.0,226.8L382.1,226.0ZM383.2,226.1L383.5,225.6L384.9,225.9L384.8,226.4L384.1,226.9ZM384.1,229.6L384.1,228.6L385.3,228.2L385.5,229.9ZM384.3,229.9L385.5,229.4L386.8,230.8L385.3,232.1ZM386.2,228.1L387.6,227.3L388.8,228.3L388.0,229.9ZM390.6,230.4L388.8,233.0L387.9,229.2ZM391.4,231.0L391.7,232.2L389.8,232.1L390.5,230.8ZM393.0,233.9L392.0,234.3L390.3,232.6L392.4,231.1L393.6,232.2ZM391.2,234.7L390.8,236.3L388.9,236.7L389.1,234.7ZM392.8,235.1L393.6,233.9L394.8,234.8L394.2,236.0L393.4,236.3ZM395.0,237.0L393.5,238.1L392.0,237.8L393.3,235.4ZM393.4,240.4L394.7,238.8L395.3,240.0ZM396.1,240.2L395.3,242.5L393.4,242.3L393.3,240.2L394.0,239.8ZM396.9,242.0L396.0,241.6L396.1,240.7L396.5,240.3L397.2,240.8ZM396.9,242.5L398.5,242.3L398.1,243.7L396.9,243.9ZM399.6,243.6L398.0,242.4L398.1,241.4L399.9,241.6L400.3,242.2ZM402.9,240.3L403.0,241.6L401.5,241.5ZM402.0,240.0L404.0,241.4L404.8,242.8L401.7,243.5L400.8,242.5ZM405.8,242.4L404.3,244.3L403.4,243.0L405.2,241.4ZM404.2,248.8L403.1,247.0L405.3,245.3L405.9,247.9ZM408.1,243.4L406.7,244.4L405.9,243.1L407.8,241.9ZM408.7,245.4L409.0,247.2L407.3,246.8ZM410.2,247.0L410.1,248.9L408.6,249.1L407.8,247.3ZM411.4,246.0L413.0,247.4L410.5,248.6L410.0,247.0ZM413.3,247.9L414.5,249.9L412.4,250.7L410.0,250.1L411.8,247.6ZM414.1,252.1L413.0,251.8L412.7,249.6L415.2,250.6ZM417.0,249.0L415.2,250.1L414.3,247.4L416.9,247.2ZM415.8,252.8L414.4,251.3L415.2,249.1L417.5,250.9ZM418.7,248.8L419.0,250.1L417.6,250.4L417.2,249.6L418.0,248.4ZM418.6,251.7L419.1,249.7L420.5,249.6L421.3,251.5L420.1,252.5Z" stroke-width="1.5"/>
<path d="M407.1,250.4L406.4,247.4L409.8,248.1ZM408.4,245.5L410.3,244.1L412.8,246.3L410.4,249.1ZM411.9,248.0L410.3,245.6L412.3,244.1L413.2,245.9ZM414.6,248.1L412.3,247.1L413.3,245.4L415.1,245.9ZM414.9,251.5L410.5,253.1L411.5,249.7ZM415.7,247.2L414.5,245.6L416.1,244.2L417.4,246.0ZM415.8,251.4L414.9,249.6L416.5,249.4L416.6,250.7ZM416.0,251.5L416.3,253.1L414.0,253.9L414.3,251.7ZM422.9,249.9L419.2,250.6L420.0,246.8ZM418.7,255.7L416.3,255.4L417.4,253.2ZM424.1,250.8L422.5,253.3L420.5,250.3ZM423.7,251.4L424.5,251.2L424.8,252.2L424.5,252.9L423.3,252.6ZM427.0,253.0L424.8,254.8L423.5,253.9L424.0,251.2L426.7,251.6ZM426.8,254.2L425.4,254.7L424.3,252.6L426.5,251.6L428.1,252.4ZM425.7,255.4L425.8,254.5L426.9,254.5L426.7,255.8ZM425.8,259.0L425.4,257.7L426.6,257.1L427.0,258.5ZM427.3,258.2L426.9,256.6L429.1,255.4L429.7,257.2ZM429.3,260.1L427.7,261.3L427.6,258.1ZM429.5,260.7L429.5,262.5L427.6,261.4L428.1,260.5ZM431.4,263.6L430.5,262.7L431.3,262.5ZM435.4,259.2L434.4,259.7L433.4,258.5L434.8,258.0L435.5,257.8ZM431.4,265.7L432.4,263.6L434.1,264.4L433.2,266.1ZM433.9,263.9L436.5,264.8L436.2,267.9L433.7,267.2ZM435.8,266.3L436.3,266.3L436.9,267.2L436.4,267.6L435.4,267.1ZM438.1,264.1L437.1,262.2L439.0,261.6L439.1,263.4ZM443.8,260.9L444.3,264.9L439.7,263.5ZM438.8,266.2L438.8,264.2L440.3,263.6L441.4,265.0L440.4,266.3ZM441.9,268.1L438.7,267.8L439.1,265.2L442.3,264.5ZM444.2,264.7L445.1,264.9L445.5,265.7L444.5,266.5L443.5,265.6ZM439.7,271.0L438.6,270.9L439.5,270.0ZM441.7,272.1L441.7,270.4L443.0,270.4L443.4,271.3ZM440.3,270.8L441.7,270.9L441.6,272.6L440.0,272.1ZM442.2,273.5L440.3,273.4L440.0,271.7L442.1,271.2ZM439.3,273.9L438.0,276.0L434.4,275.7L435.3,272.6ZM440.6,277.9L440.3,274.8L443.2,274.7L442.9,277.8ZM436.6,278.1L435.1,277.0L435.3,275.8L436.5,275.4L437.6,276.3ZM439.6,278.9L439.1,277.4L440.3,277.9ZM442.0,279.7L441.1,280.5L439.7,280.1L441.0,278.3ZM443.2,280.9L442.3,281.4L440.9,281.2L442.2,280.0ZM444.2,282.0L441.7,281.8L443.2,278.9ZM448.2,278.5L446.3,280.2L445.4,279.0L446.4,277.3ZM446.7,282.1L446.5,284.2L442.9,283.9L444.3,281.7ZM449.1,281.6L448.0,282.3L446.6,280.6L448.1,280.3ZM447.4,283.3L449.2,284.2L448.7,285.6L446.6,285.1L446.1,284.3ZM444.7,289.8L447.0,286.8L448.5,287.3L450.2,288.9L446.4,290.7ZM450.1,282.8L451.6,282.6L450.7,284.0ZM450.9,288.6L448.4,286.6L451.5,284.5L453.4,286.5ZM452.0,284.4L453.8,284.3L454.1,285.3L453.2,286.7L452.1,286.1Z" stroke-width="1.6"/>
<path d="M415.3,250.7L413.8,251.7L412.4,248.8L414.1,248.2ZM416.4,249.6L416.5,245.3L420.2,247.6ZM416.4,248.0L419.0,247.9L418.2,250.3L416.5,250.8ZM417.6,251.8L418.3,252.6L417.2,253.3L416.7,252.4ZM417.0,254.1L418.5,252.1L422.8,253.6L421.0,255.7ZM420.7,255.1L419.5,254.4L420.6,253.7ZM423.0,249.5L425.2,249.3L424.1,251.2ZM423.4,254.7L423.8,258.6L420.7,258.3L420.6,254.8ZM423.0,259.1L422.8,257.7L423.7,257.5L424.2,258.6ZM424.1,257.4L425.9,258.6L424.8,259.3ZM426.7,257.2L427.2,254.6L429.7,256.0L428.3,257.9ZM428.0,255.8L428.9,255.4L429.4,256.2L428.8,256.9L427.7,256.3ZM430.3,257.6L428.8,255.9L430.7,255.9ZM429.8,260.8L430.7,262.0L428.9,263.0L427.4,262.5L428.5,260.8ZM429.6,261.8L431.2,261.6L430.7,263.3ZM430.6,261.6L431.5,261.1L432.6,261.9L431.3,263.3L430.3,262.9ZM431.7,264.1L433.7,262.5L434.4,264.7ZM435.0,259.8L436.1,259.1L437.1,260.8L435.4,261.7L434.7,261.2Z" stroke-width="1.6"/>
<path d="M451.8,288.8L451.5,286.9L452.2,286.0L453.9,286.8L453.4,287.8ZM453.9,289.1L454.4,288.1L456.3,288.4L455.7,290.1ZM454.3,291.1L455.2,291.2L455.0,292.3L454.2,292.0ZM456.2,292.1L455.9,292.8L454.4,292.8L454.4,292.2L455.0,291.4ZM452.8,294.7L451.5,294.5L452.2,292.5L453.2,292.8L453.9,294.2ZM454.9,295.4L454.6,297.1L453.2,297.1L452.7,295.7ZM452.2,298.4L452.9,297.1L453.9,297.6L453.1,299.0ZM451.8,300.2L450.5,298.1L452.2,298.0L453.9,299.2ZM453.1,301.1L452.2,301.3L451.9,299.7L453.8,299.7ZM449.1,302.7L448.6,301.4L449.6,299.9L451.5,301.0Z" stroke-width="1.5"/>
<path d="M474.6,261.8L476.1,261.1L476.1,263.3ZM476.5,269.9L475.4,267.0L477.6,264.8L479.4,266.3L479.0,268.3ZM474.1,265.0L474.3,266.4L472.9,266.2L473.0,265.2ZM473.5,267.1L472.5,266.9L471.8,265.7L473.2,264.4L474.6,265.5ZM472.9,270.0L473.5,268.8L475.1,269.7L473.7,271.0ZM469.8,265.5L470.5,265.9L470.2,267.1L468.8,266.9L468.7,265.9ZM472.9,270.3L475.0,272.0L472.4,274.1L471.1,273.6L470.3,271.0ZM468.2,268.7L469.1,268.2L469.1,269.9ZM470.8,271.7L472.1,274.1L468.3,274.2L466.7,273.1L469.4,270.4ZM466.0,272.9L469.4,270.3L470.4,274.1ZM466.8,274.7L465.7,274.3L466.0,273.3L466.4,273.2L467.4,274.0ZM465.4,271.4L464.6,273.1L462.9,272.3L463.4,269.9ZM462.5,270.7L464.7,272.4L462.5,275.0L461.1,273.2ZM461.5,272.6L463.5,275.6L459.3,276.1ZM463.1,276.9L466.0,278.7L463.8,280.2ZM460.7,278.0L462.0,276.0L463.6,277.8L462.5,279.3ZM464.2,280.2L462.7,279.5L464.2,279.0ZM458.5,279.7L458.8,277.5L460.1,277.8L460.9,279.9L459.1,280.8ZM459.1,280.8L460.8,281.3L460.9,282.0L459.8,282.8L458.6,281.7ZM462.1,283.7L460.0,283.7L460.0,281.6L461.2,281.2ZM459.0,282.6L461.4,281.7L461.8,284.9L457.8,285.4Z" stroke-width="1.5"/>
<path d="M462.0,276.2L463.1,274.6L465.1,275.5L464.1,277.8ZM463.7,277.4L464.3,273.9L467.2,274.7L467.1,278.1ZM465.1,278.1L465.9,280.9L464.2,281.0L463.4,279.5ZM466.6,282.1L466.0,282.1L465.5,280.6L467.3,280.1L467.8,281.4ZM467.5,277.4L470.9,277.2L469.5,279.9ZM467.5,280.4L469.1,278.6L470.7,279.7L469.1,282.0ZM469.9,284.5L468.6,281.9L470.6,280.9L472.1,282.7ZM473.2,281.7L472.4,281.5L472.7,280.1L474.1,280.6ZM474.0,282.9L472.8,283.6L473.0,282.4ZM473.9,284.1L474.5,285.1L473.8,285.5L473.1,284.6ZM473.5,285.3L473.5,283.6L475.2,283.3L476.5,284.4L475.6,286.2ZM475.6,286.5L474.9,285.4L476.7,284.7L476.6,286.2ZM474.6,288.5L474.5,285.7L476.5,285.2L477.1,287.8ZM476.4,281.5L478.9,282.1L478.8,283.5L476.4,284.9L475.4,283.1ZM476.9,281.8L479.5,281.0L480.2,283.6L478.8,285.0ZM483.8,286.4L481.5,287.8L480.2,285.8L482.3,284.7ZM483.7,283.9L484.9,285.3L484.1,287.1L482.8,285.8L482.9,284.9ZM485.0,280.2L483.5,283.1L482.0,281.4L482.6,279.7ZM487.2,282.3L485.4,284.4L483.5,283.5L483.0,280.7L487.3,280.8ZM485.1,282.0L486.7,280.9L488.9,282.2L487.1,284.2ZM487.5,286.1L486.5,285.7L487.1,284.5L488.3,285.4ZM487.8,284.6L488.5,282.7L491.0,284.1L489.2,286.6ZM488.9,289.4L487.2,287.9L488.4,286.0L490.2,287.5ZM489.5,287.7L490.8,289.2L488.6,290.0L488.6,288.3ZM492.1,287.5L491.3,288.0L490.6,287.3L491.2,286.8ZM492.7,290.0L492.4,291.9L489.8,292.1L488.9,289.3ZM495.0,289.7L493.6,290.1L492.5,287.4L494.6,287.0ZM497.0,291.1L496.1,293.8L494.0,293.1L494.7,290.3ZM496.0,293.9L494.1,293.0L496.2,291.1ZM499.0,288.4L495.9,288.3L496.2,285.0L498.5,285.0ZM498.9,286.3L499.7,285.8L500.4,287.3L498.7,288.4ZM501.5,288.4L502.6,289.8L500.7,291.1L499.6,289.6ZM503.8,288.4L504.6,290.3L503.0,290.3L502.8,288.7ZM503.6,292.9L503.3,291.5L504.6,291.1L504.9,292.4ZM502.5,296.0L501.3,294.9L501.9,292.2L505.3,294.7ZM504.9,296.1L503.9,295.6L503.6,293.4L504.9,292.2L506.9,293.4ZM503.8,295.4L505.0,297.2L503.0,299.9L500.8,298.2ZM506.6,298.6L504.1,300.1L503.0,298.4L504.7,295.9ZM508.8,298.0L508.6,299.2L506.5,298.2L506.8,297.6L508.0,296.7ZM505.3,302.9L503.7,299.1L507.2,300.4ZM506.2,299.1L507.2,299.4L507.5,302.0L506.3,302.2L504.8,301.2ZM506.6,304.6L507.7,300.6L510.9,301.9L509.7,304.5ZM511.5,304.0L509.4,306.5L507.9,303.5L509.4,301.5ZM511.1,305.3L510.3,304.0L511.6,303.7ZM511.7,298.4L511.3,300.7L509.5,301.6L507.7,299.1L510.2,297.3ZM513.6,301.1L515.4,302.7L512.5,303.1ZM513.1,298.6L513.3,297.2L514.6,297.7L514.7,298.5ZM514.7,299.3L515.9,299.1L516.0,300.9L515.4,301.7L513.6,300.6ZM516.5,298.5L517.9,298.7L518.3,301.4L516.3,300.2ZM517.8,300.3L519.7,300.6L520.1,301.6L518.9,302.6ZM518.5,303.9L517.2,303.3L517.7,301.4L519.6,302.7ZM521.8,304.2L520.5,304.5L519.7,304.1L520.4,303.1L521.1,302.8ZM524.1,302.7L522.9,305.8L519.9,304.6L521.8,301.7ZM521.2,307.0L518.6,308.9L517.4,305.4ZM520.8,309.0L521.2,306.8L522.8,306.7L523.4,308.7L522.7,309.3ZM523.1,307.7L522.6,306.5L523.9,306.3L524.2,307.2ZM525.7,304.7L523.9,307.2L522.9,303.7ZM524.1,303.9L522.8,303.3L523.8,302.4L525.2,303.0ZM525.6,305.3L527.6,304.1L528.5,306.2L526.0,307.2ZM529.1,307.3L527.8,306.4L528.6,304.9L529.9,305.8ZM526.4,302.1L527.8,299.0L529.5,300.8Z" stroke-width="1.5"/>
<path d="M502.1,285.8L503.0,285.4L503.5,286.4L501.8,287.1ZM498.8,291.3L502.0,290.2L503.5,292.6L500.1,293.6ZM503.3,290.3L502.8,286.7L504.7,286.5L506.2,288.9ZM503.4,295.5L503.5,296.7L502.2,296.3L501.9,295.2ZM503.8,293.6L504.8,292.8L505.2,293.6ZM508.9,294.1L506.1,294.4L504.6,290.7L508.2,291.0ZM511.2,290.5L508.6,291.6L508.9,289.6L510.6,288.9ZM507.2,300.3L505.1,299.1L508.9,297.9ZM512.4,290.3L512.4,293.7L510.7,293.0L510.3,290.8ZM512.9,297.0L511.3,296.9L511.7,295.5L512.7,296.0ZM514.6,294.2L515.7,291.4L517.1,292.9ZM515.3,295.2L515.0,299.1L513.0,296.1ZM516.2,294.6L516.4,293.9L517.3,293.6L517.3,294.7ZM516.0,300.3L515.8,299.4L517.0,299.0L516.9,299.9ZM519.7,296.3L519.4,297.2L518.7,297.4L518.2,296.4L518.5,296.1ZM517.9,301.7L517.1,300.2L518.4,299.4L519.6,300.4L519.4,301.8ZM517.9,296.5L520.8,295.9L519.5,298.0ZM520.0,297.7L522.8,298.4L521.8,301.8L519.5,299.8ZM525.8,299.9L524.8,301.7L523.7,300.9L523.3,299.3ZM523.8,298.9L524.4,296.4L526.1,297.3ZM526.6,296.1L526.4,297.5L524.9,297.4L525.4,295.8ZM529.8,303.3L526.7,302.6L528.3,300.4ZM531.2,300.5L529.2,300.9L528.1,298.5L530.1,298.6ZM531.8,301.4L529.8,301.5L528.3,300.2L529.0,298.2L531.2,298.3ZM529.1,303.1L527.2,302.2L529.3,300.0L531.1,301.8ZM531.5,299.1L534.0,297.4L533.4,301.0ZM536.9,300.5L534.3,300.8L535.2,297.8ZM533.9,306.5L531.8,306.7L530.7,304.0L534.0,303.2ZM536.4,299.6L539.8,296.6L540.3,300.2ZM538.0,303.4L536.3,302.6L536.4,301.2L538.8,300.7ZM537.8,307.9L535.7,308.8L535.0,306.6L536.8,305.4Z" stroke-width="1.5"/>
<path d="M409.7,142.3L409.9,145.1L406.9,144.9L406.8,142.7ZM408.1,145.7L407.9,143.7L409.5,143.1L410.5,144.4L409.6,146.1ZM411.3,148.1L409.1,148.9L408.9,147.5L410.4,146.2ZM408.1,152.8L407.3,150.4L409.7,150.0L410.6,152.1ZM412.2,152.7L411.5,150.4L413.5,151.6ZM414.5,155.2L412.8,155.5L412.0,152.9L413.7,151.6L414.8,153.1ZM414.8,156.0L412.9,155.6L413.9,154.0ZM420.2,151.2L418.1,153.0L417.3,151.8L418.5,149.1ZM417.1,154.7L418.1,154.4L419.4,155.2L418.5,156.9L417.4,156.0ZM418.7,157.2L417.0,157.9L416.7,156.9L417.6,156.5ZM421.9,156.6L421.6,154.7L422.2,154.3L424.0,155.4L423.4,157.2ZM420.7,159.2L420.3,161.5L417.9,162.1L417.9,160.2L419.6,159.1Z" stroke-width="1.3"/>
<path d="M411.1,151.5L412.4,149.5L413.7,149.9L413.5,151.8L412.3,152.0ZM412.0,153.2L411.8,151.4L413.6,151.8L413.9,153.6ZM413.5,155.0L413.3,155.9L411.8,156.3L411.4,155.0L411.9,154.2ZM415.1,156.8L413.0,158.6L412.0,156.5ZM414.5,156.6L415.8,158.1L415.2,159.1L413.6,159.4L413.6,156.9ZM418.0,160.6L415.6,161.2L415.4,159.8L417.7,159.5ZM415.8,163.2L416.5,161.6L417.8,162.0L417.1,163.5ZM415.6,165.3L415.3,164.4L415.9,163.8L416.5,164.8Z" stroke-width="1.3"/>
<path d="M417.1,170.5L419.3,170.9L419.0,172.3L417.4,172.5ZM424.2,171.5L424.4,172.8L422.6,172.2L422.8,171.1ZM423.7,172.2L424.8,173.9L422.6,173.9ZM424.6,174.1L425.4,175.2L424.5,175.6L423.7,175.4ZM427.0,177.4L425.7,176.6L427.1,175.6ZM428.4,179.9L427.9,181.5L426.6,180.4ZM427.2,184.4L425.6,184.3L425.3,182.6L427.2,182.4ZM426.4,185.8L425.1,185.2L426.5,183.6ZM422.1,186.7L422.9,185.5L423.8,185.9L423.1,187.3ZM418.6,187.5L419.4,186.3L420.6,186.3L421.1,187.7L420.2,188.8ZM421.0,187.0L421.0,188.8L419.4,187.6ZM418.5,183.3L420.3,183.3L420.5,184.0L419.7,185.1L418.5,184.6ZM419.3,182.6L418.3,182.7L418.1,181.6L419.8,180.9L420.3,181.7ZM417.2,179.4L418.8,179.5L418.1,181.4L416.3,180.3ZM418.1,177.7L419.6,178.5L417.7,179.2ZM417.9,175.3L417.1,174.6L418.5,173.9ZM418.6,173.0L419.8,174.0L418.4,175.1L417.2,173.4Z" stroke-width="1.3"/>
<path d="M427.9,193.1L426.0,191.2L428.3,189.9ZM430.8,192.4L428.9,191.3L429.8,189.7ZM431.9,190.2L432.9,189.9L433.3,191.3L431.6,191.3ZM432.2,192.0L433.3,189.9L434.5,191.2L433.5,192.6ZM434.2,191.7L436.2,192.0L435.2,193.8ZM435.1,194.1L436.6,194.3L435.9,195.3ZM439.6,199.0L437.5,199.3L436.5,197.1L438.7,196.5ZM439.0,199.6L438.2,199.1L438.7,198.2L439.6,199.0ZM437.7,202.1L438.0,200.9L438.7,201.1L438.6,202.3ZM437.0,202.9L438.1,201.8L439.0,202.4L439.0,203.4L437.8,203.6ZM439.2,204.5L438.2,206.3L436.3,205.2L437.8,203.5ZM435.1,205.5L435.7,205.9L435.2,207.0L434.2,206.0ZM432.8,205.4L434.2,205.2L434.0,207.1L433.2,207.0ZM431.8,203.5L431.3,203.8L430.6,202.9L431.5,202.4ZM428.1,202.2L429.6,202.8L428.2,204.0L427.4,203.0ZM427.3,200.4L428.7,200.4L428.0,201.5ZM428.7,198.5L429.0,199.8L427.0,199.9L426.9,198.4ZM426.7,198.1L425.3,197.7L425.5,196.7L426.8,196.1L427.6,197.0ZM427.8,194.9L429.1,194.8L429.4,196.3L428.1,196.7L427.5,195.7ZM427.9,191.1L427.0,193.2L425.1,192.1L426.0,191.0ZM424.8,190.3L425.9,189.3L426.3,190.1L425.3,190.7Z" stroke-width="1.3"/>
<path d="M431.5,162.9L432.3,164.2L430.9,164.7L430.3,163.9ZM433.1,167.5L432.1,167.3L433.0,166.5ZM430.2,166.8L432.2,167.2L431.6,168.5ZM430.8,171.3L432.6,170.5L433.1,171.5L431.9,172.4ZM431.0,174.9L432.1,173.0L433.1,174.5ZM431.5,175.5L431.2,176.6L430.2,175.8L430.4,175.0ZM433.9,180.4L431.9,180.4L432.0,178.9ZM432.7,181.4L431.6,182.7L431.0,182.0L431.6,181.1ZM432.3,183.0L432.3,181.8L433.3,181.7L433.8,182.1L433.7,183.3ZM432.5,183.8L433.8,184.6L433.5,185.5L432.3,185.6L432.0,184.3ZM433.5,187.3L434.5,187.8L434.5,189.2L433.0,188.4ZM435.4,189.8L437.3,189.4L437.0,190.9L435.7,191.0ZM438.2,193.4L436.6,194.9L435.8,193.7L437.1,192.8ZM437.6,193.6L438.8,194.0L439.2,195.0L438.3,195.8L437.3,194.7Z" stroke-width="1.3"/>
<path d="M349.8,175.2L350.9,176.2L349.9,177.2L349.0,176.1ZM349.7,178.4L350.4,179.6L348.7,179.4ZM353.8,178.6L352.4,180.7L351.2,179.6L351.6,177.1L352.6,177.7ZM350.0,182.2L349.6,182.3L349.1,181.9L349.7,181.1L350.5,181.6ZM351.5,182.5L352.8,183.8L351.5,184.4ZM350.0,186.7L349.2,185.0L350.7,185.5ZM350.8,185.9L350.3,187.5L348.9,186.3ZM347.4,187.4L349.2,188.4L348.7,190.7L347.2,189.7ZM351.3,191.0L351.9,189.7L353.7,191.3ZM350.5,192.3L351.6,191.6L351.8,192.7ZM354.1,195.0L353.0,195.1L352.8,194.0L353.4,193.6L354.3,194.2ZM354.3,193.4L355.8,192.6L356.5,194.2L354.6,195.3ZM357.4,196.9L356.4,196.5L356.1,195.8L357.3,194.9L358.4,195.9ZM360.6,193.8L360.7,195.2L359.2,194.7L359.4,193.6ZM362.0,196.1L361.4,198.3L359.2,198.3L359.8,195.7ZM360.9,197.6L362.4,197.6L362.5,198.6L360.9,198.9Z" stroke-width="1.3"/>
<path d="M346.0,159.1L346.9,158.2L347.5,159.4L346.9,160.2ZM345.7,160.0L346.7,158.3L347.1,160.3ZM344.0,160.8L345.9,162.2L343.4,162.5ZM344.6,164.8L343.8,163.8L344.6,162.9L345.7,163.7ZM343.4,167.4L344.5,165.8L345.2,167.4ZM346.3,170.9L344.9,170.5L344.6,169.9L345.8,168.7L346.6,170.1ZM349.1,169.6L349.6,171.5L347.5,171.9L346.8,169.9ZM349.0,171.3L350.5,171.4L350.9,172.6L348.4,173.8L347.6,172.4Z" stroke-width="1.3"/>
<path d="M333.7,171.7L331.7,172.9L330.2,172.0L332.5,169.8ZM332.2,168.6L332.6,169.8L331.1,170.9L330.9,169.5ZM331.6,167.7L331.0,166.0L332.8,165.2L333.0,166.8ZM329.9,164.4L331.1,163.1L332.1,163.7L331.7,165.0L331.1,165.6ZM331.2,162.2L330.0,164.9L328.8,163.4L329.4,161.9ZM332.1,159.1L334.0,159.0L333.0,162.1L331.3,160.0ZM330.6,157.1L333.1,156.6L332.8,158.9ZM332.2,155.5L334.2,154.3L335.0,156.1L333.9,157.2L333.1,156.7ZM333.7,155.4L333.8,153.6L335.4,154.5L334.8,155.9ZM338.0,155.4L337.1,155.5L336.5,154.6L337.6,153.5Z" stroke-width="1.3"/>
<path d="M339.5,155.3L340.7,154.0L341.8,155.4L340.4,157.0ZM342.4,157.4L341.1,157.2L340.6,156.3L341.9,155.5ZM341.0,160.1L342.9,158.6L343.5,160.2L342.2,161.3ZM340.0,162.4L341.0,161.7L342.0,162.1L342.2,163.8L340.5,164.0ZM340.3,165.3L341.2,163.6L342.2,164.8L341.1,166.4ZM339.9,169.6L338.0,168.5L339.0,167.2L340.9,168.2ZM336.8,170.8L337.4,169.2L338.6,170.1L337.6,170.8ZM337.4,171.4L338.8,173.2L337.9,174.0L336.5,172.4Z" stroke-width="1.3"/>
<path d="M435.6,209.7L435.3,210.0L434.1,210.0L434.1,209.1L434.5,208.8ZM437.2,211.4L435.7,214.4L433.8,211.5ZM439.2,211.2L438.8,209.6L439.6,209.3L440.6,210.3ZM436.1,214.0L437.7,214.3L436.8,215.9ZM442.0,214.0L440.6,215.7L439.8,214.3ZM440.2,218.1L440.2,217.0L441.7,217.5ZM437.4,215.4L437.6,218.2L434.6,217.6L435.6,214.5ZM438.9,222.0L439.2,218.9L441.8,220.5ZM438.3,220.6L440.4,220.4L441.1,221.3L440.3,223.3L438.6,223.1ZM433.1,221.6L436.3,219.2L437.4,221.7ZM437.1,223.6L439.0,224.3L436.9,226.6L435.8,224.4ZM432.5,224.5L433.8,223.2L433.7,225.8ZM433.8,225.8L433.5,226.8L432.7,226.9L432.6,226.1L433.1,225.4Z" stroke-width="1.3"/>
<path d="M412.5,244.1L415.2,244.8L413.5,246.3ZM415.8,248.1L414.7,248.2L413.5,247.5L414.0,245.4L415.9,245.8ZM415.5,248.5L416.6,249.0L415.8,249.8L415.1,249.5ZM418.2,243.2L418.7,243.6L418.4,244.7L417.8,244.9L417.6,243.8ZM419.3,247.9L418.7,250.4L416.9,248.1ZM419.1,252.8L418.1,251.3L420.1,250.9ZM417.6,255.8L416.0,253.5L417.1,252.2L420.0,255.0ZM422.6,248.1L423.3,246.3L424.5,246.0L426.5,246.6L425.5,248.9ZM423.1,253.6L419.8,255.1L419.8,252.3ZM420.6,255.3L422.1,255.2L421.3,256.6ZM427.6,251.7L427.1,251.3L427.3,250.3L428.0,250.7ZM421.1,258.3L421.9,255.6L424.8,256.9L422.8,259.0ZM429.0,254.3L428.0,253.1L429.4,253.1ZM429.5,256.1L430.4,254.4L432.5,253.9L432.0,256.8ZM430.5,255.7L430.2,258.9L427.7,258.0L428.0,255.7ZM425.7,260.2L426.1,258.7L427.6,259.3L427.5,260.6ZM431.3,260.0L428.3,261.9L427.5,259.6L429.6,257.8ZM433.0,259.0L434.5,258.8L434.1,260.3Z" stroke-width="1.3"/>
<path d="M438.4,254.3L436.5,257.9L435.9,254.5ZM431.3,261.4L433.2,260.2L434.5,262.3ZM437.5,257.4L438.4,260.5L436.0,259.5ZM435.0,263.1L435.5,261.2L436.8,261.2L437.0,263.2ZM442.3,259.8L441.2,260.9L439.7,259.9L441.1,258.3ZM440.5,260.9L440.6,262.5L439.1,261.7ZM437.2,266.8L439.1,264.4L440.4,266.5ZM437.5,267.8L438.0,265.3L439.4,265.5L440.1,267.1L439.3,267.7ZM443.3,265.7L441.6,266.9L440.6,265.7L442.5,264.5ZM443.6,268.5L440.8,270.7L440.8,266.4ZM443.2,268.6L444.8,269.5L443.8,269.9ZM446.4,267.2L446.5,269.5L443.8,269.8L444.7,266.9ZM445.9,272.3L444.9,271.7L445.4,270.4L446.2,271.3Z" stroke-width="1.3"/>
<path d="M349.0,141.0L351.1,142.8L352.8,145.3L354.9,146.0L357.4,145.6L360.3,145.5L361.1,149.0L361.5,152.0L357.0,156.1L357.1,158.4L357.1,161.3L354.3,162.8L353.5,164.4L354.1,166.9L351.1,168.3L347.5,169.0" stroke-width="1.2"/>
<path d="M356.0,136.0L357.4,138.9L357.7,141.5L355.0,142.7L352.5,145.0" stroke-width="1.2"/>
<path d="M365.0,136.0L364.9,139.5L366.2,142.7L363.0,144.2L360.0,146.0" stroke-width="1.2"/>
<path d="M377.5,136.0L378.1,138.5L377.0,142.0L377.9,144.6L377.4,146.4L375.5,149.0L373.0,149.8L370.4,150.7L369.4,153.1L367.2,156.5L368.4,159.6L369.7,162.4L371.2,164.6L373.0,168.1L372.3,170.3L370.3,173.9L370.8,177.1L370.6,180.7L369.0,182.7L367.4,185.4L364.9,184.7L362.2,182.2L360.1,181.6L357.7,179.3L354.9,178.3L352.5,177.5" stroke-width="1.2"/>
<path d="M357.5,156.0L360.4,157.4L362.4,159.5L362.2,162.4L363.2,165.7L360.1,170.2L356.8,168.9L354.0,167.5" stroke-width="1.2"/>
<path d="M345.0,156.0L347.4,158.0L350.1,159.3L352.1,161.0L354.0,162.5" stroke-width="1.2"/>
<path d="M361.0,152.5L364.2,154.1L367.5,156.0" stroke-width="1.2"/>
<path d="M376.0,197.5L379.1,197.3L381.8,197.9L384.4,199.3L386.5,200.6L387.6,203.4L389.4,205.5L392.0,203.3L394.5,200.2L395.8,197.9L398.6,196.1L400.8,194.9L403.1,192.4L405.3,190.5L407.1,188.9L406.9,186.7L405.8,183.1L404.4,180.1L405.0,176.5L404.1,173.4L407.5,172.5" stroke-width="1.2"/>
<path d="M406.0,190.0L404.2,191.2L401.9,193.4L399.0,195.0L397.5,195.6L396.0,198.3L395.3,200.0L393.1,202.4L392.5,205.0" stroke-width="1.2"/>
<path d="M376.0,197.5L375.0,199.9L374.0,202.8L372.3,205.1L374.5,206.0L377.7,206.3L380.2,207.0L382.3,210.1L383.9,212.7L384.6,215.3L385.5,217.3L385.9,220.4L386.0,222.5" stroke-width="1.2"/>
<path d="M390.0,205.0L391.8,207.3L393.7,210.9L394.4,213.6L394.8,215.4L393.3,217.9L393.4,220.4L392.6,223.8L394.6,225.9L397.4,228.3L397.5,231.0L397.8,233.3L399.1,236.8L399.0,240.0" stroke-width="1.2"/>
<path d="M416.0,210.0L416.1,213.1L416.6,215.1L416.6,217.4L418.0,220.5L416.7,223.5L414.6,225.2L413.2,229.0L413.4,231.8L413.2,234.9L412.7,238.4L412.8,242.1L413.7,245.3L415.0,248.0" stroke-width="1.2"/>
<path d="M426.0,216.0L426.7,218.8L426.7,221.3L426.6,224.9L427.3,227.6L426.8,230.3L426.0,234.2L425.9,236.5L428.5,239.5L430.0,243.0" stroke-width="1.2"/>
<path d="M384.0,138.0L385.9,139.9L388.0,142.1L389.8,140.7L392.0,139.0" stroke-width="1.2"/>
<path d="M429.5,248.0L432.0,247.2L433.9,245.4L435.7,243.9L439.0,242.7L441.3,242.2L443.6,240.0L445.9,240.2L448.7,238.6L451.3,238.3L455.1,237.1L457.7,238.7L460.5,239.9L464.5,240.4L466.0,240.6L468.7,239.9L471.8,240.6L473.7,241.6L476.8,244.1L478.8,245.1L480.9,246.5L483.6,247.7L486.1,247.1L487.9,245.5L490.9,244.5L493.3,246.3L495.7,247.8L497.9,248.8L499.5,250.0L501.7,247.4L502.7,245.1L503.3,242.3L504.5,240.8L507.9,242.1L510.5,243.1L513.3,242.8L514.4,246.6L515.9,249.1L515.8,252.8L517.2,255.6L518.8,257.2L519.9,260.8L520.6,263.6L521.1,265.5L522.6,269.2L523.4,272.6L523.6,274.4L524.3,277.3L524.4,279.9L525.3,282.2L525.3,285.1L524.9,288.1L525.5,290.0" stroke-width="1.2"/>
<path d="M471.5,240.5L470.8,243.2L470.3,246.8L470.6,249.3L469.5,252.6L471.3,254.8L473.2,256.3L473.9,259.7L476.0,261.5" stroke-width="1.2"/>
<path d="M483.5,248.0L485.0,250.4L485.1,253.9L487.0,256.7L484.6,257.9L482.1,259.4L479.0,261.5" stroke-width="1.2"/>
<path d="M500.0,249.5L500.1,253.2L500.3,256.1L499.8,259.1L498.3,259.7L495.9,262.1L492.8,262.8L491.4,264.6L489.7,266.3L487.2,267.8L485.1,270.6L483.2,272.6L485.0,274.3L485.5,275.8L486.3,279.2L488.0,281.0" stroke-width="1.2"/>
<path d="M444.5,263.0L447.6,261.6L449.2,259.6L451.9,256.8L455.1,257.4L457.3,256.7L458.9,256.6L461.8,258.1L464.8,259.7L467.0,262.0L470.0,263.0" stroke-width="1.2"/>
<path d="M452.0,257.0L453.8,258.3L455.3,261.1L457.3,263.1L455.3,265.5L454.2,268.1L451.6,271.0L452.2,273.9L451.6,277.2L450.5,279.5" stroke-width="1.2"/>
<path d="M459.5,257.0L458.5,260.1L457.7,263.4L456.5,265.6L458.3,268.7L460.4,271.1L461.0,274.0" stroke-width="1.2"/>
<path d="M521.0,272.0L518.9,273.9L518.7,275.6L516.8,278.4L515.9,280.2L514.2,283.1L511.4,283.8L507.5,285.0" stroke-width="1.2"/>
<path d="M443.0,240.5L443.8,237.9L445.3,235.1L446.2,231.8L449.3,229.8L451.6,227.4L453.1,230.7L453.7,234.0L455.0,237.5" stroke-width="1.2"/>
<path d="M500.0,220.0L502.3,221.1L505.6,222.5L507.6,222.9L510.1,223.9L512.5,224.0L515.2,223.5L517.8,223.3L520.7,223.2L522.5,221.9L523.8,220.2L525.8,218.1L527.4,216.4L530.2,219.5L533.1,220.0L536.3,220.4L538.2,219.2L541.0,219.0" stroke-width="1.7"/>
<path d="M503.3,220.4L502.3,221.3L501.6,220.1L501.8,219.8L502.6,219.4ZM502.2,223.5L502.2,222.6L503.4,222.3L503.5,223.6ZM504.1,223.5L505.2,222.1L506.0,223.4Z" stroke-width="1.5"/>
<path d="M539.7,219.3L541.3,219.5L541.0,221.0L540.2,221.8L539.1,220.2ZM543.8,220.8L542.3,220.5L542.0,219.0L543.3,218.8L543.6,219.5ZM542.2,221.2L543.5,221.0L542.5,222.0ZM544.2,223.1L543.7,222.0L544.3,221.1L545.4,221.6L545.6,223.0ZM544.5,224.9L543.6,223.6L544.4,222.3L546.4,223.6L545.6,224.9ZM545.9,224.6L546.8,224.1L547.5,225.0L546.4,225.7L545.8,225.8ZM547.1,228.0L546.6,225.9L548.2,226.1L548.5,227.5ZM543.9,227.8L545.3,226.9L547.0,228.1L545.7,229.9ZM546.9,229.2L548.1,228.2L549.1,228.8L549.2,229.5L547.8,230.0ZM547.7,229.9L547.9,231.3L546.6,231.2ZM549.1,233.9L547.3,233.4L547.9,231.9L549.4,232.6ZM551.2,233.7L550.4,235.6L548.2,234.4ZM549.8,235.1L550.4,236.1L549.3,237.0L548.2,235.6ZM551.7,237.5L550.0,239.0L549.3,236.2ZM550.3,238.5L550.0,239.8L549.3,238.4ZM548.5,238.7L550.6,237.6L551.3,239.3L550.0,240.9L548.9,240.5ZM550.2,239.3L551.9,239.8L552.3,241.3L550.3,242.4L549.3,241.3ZM550.6,243.6L549.4,242.5L549.5,241.2L551.1,241.1L551.5,242.6ZM548.7,245.3L547.6,244.5L548.5,243.4L549.3,244.4ZM549.7,245.4L550.3,244.6L551.5,245.4L551.1,246.5L550.1,246.6ZM549.0,246.9L550.4,245.7L551.9,245.8L551.6,247.4L550.4,247.9ZM551.0,247.7L551.7,247.2L552.4,248.1L551.6,248.6L551.1,248.7ZM552.1,249.8L550.7,250.6L550.3,249.2L551.1,248.9ZM551.6,252.5L551.6,251.1L552.8,251.1L552.8,252.5ZM552.3,254.7L552.1,253.9L553.3,252.5L554.7,253.6L554.0,255.1ZM553.2,255.2L552.4,255.6L552.2,254.4L552.9,254.1ZM556.6,255.5L555.0,255.4L555.1,254.2L556.8,254.2ZM555.9,258.3L554.4,256.2L555.9,255.7L557.1,257.7ZM557.0,256.5L557.4,258.6L554.6,258.7ZM556.7,258.7L557.9,257.2L558.2,259.2ZM557.9,258.9L559.9,259.6L558.7,261.1L557.4,260.8ZM559.7,261.4L559.8,260.0L561.9,259.5L561.9,261.1ZM559.4,263.0L560.1,261.8L561.1,262.6L560.0,263.5ZM562.9,263.7L561.8,264.5L561.0,263.3L561.0,262.3L562.9,262.7ZM562.5,264.8L561.6,264.0L562.2,263.7L563.5,264.4ZM563.4,266.2L562.3,265.4L563.6,264.2L564.6,264.7Z" stroke-width="1.5"/>
<path d="M565.0,265.0L567.2,265.4L570.3,265.3L572.6,265.8L573.4,263.3L575.3,259.5L575.7,262.9L577.6,265.1L581.1,267.1L583.7,268.6L588.0,270.2L591.5,268.2L593.0,271.3L594.9,273.4L596.2,275.6L597.8,277.0L600.6,279.5L601.8,280.5L603.6,282.1L605.5,284.7L606.9,286.3L609.1,287.9L611.4,289.5L614.1,290.1L616.6,290.8L619.4,292.2L621.7,292.8L623.9,293.7L627.1,295.2L630.4,295.4L632.3,296.1L635.9,296.5L637.8,296.9L641.2,296.7L643.8,296.2L646.9,296.3L650.2,292.1L650.7,294.7L651.3,297.4L651.9,299.1L652.9,302.0L654.0,304.6L653.7,306.6L654.3,309.4L653.6,312.0L653.9,315.3L653.4,317.0L653.3,320.4L653.4,322.0L653.1,325.0L653.7,327.4L653.5,331.1L652.9,333.6L653.0,336.2L651.1,337.8L648.5,340.5" stroke-width="1.7"/>
<path d="M641.4,296.1L642.1,297.3L641.3,297.9L640.7,298.0L640.2,296.7ZM643.2,295.8L644.9,295.4L644.4,296.5ZM644.9,294.8L646.1,294.9L646.0,295.6L644.9,296.0ZM646.7,294.9L648.0,295.4L647.1,296.8L646.1,295.6ZM646.9,295.0L649.2,294.5L648.1,296.0ZM648.8,294.4L650.1,293.9L650.6,295.0L649.2,295.4ZM652.4,293.9L651.4,295.5L650.4,294.7L651.5,293.2ZM651.0,295.3L652.0,296.1L651.4,297.3L650.1,295.8ZM652.3,298.0L651.0,297.8L651.1,296.5L652.6,296.9ZM654.4,298.9L653.9,300.2L652.4,300.2L653.1,298.1ZM652.5,300.6L652.2,300.0L652.8,299.5L653.3,300.3ZM653.7,303.9L652.3,303.0L654.0,301.1L654.7,302.8ZM653.8,303.4L654.3,304.4L654.1,305.0L652.7,304.3L652.9,303.2ZM654.9,306.1L654.4,306.8L653.5,306.4L653.7,305.3L654.7,305.7ZM652.7,308.1L652.9,306.8L654.2,307.5ZM653.7,309.5L654.8,309.5L655.0,310.6L653.9,310.6ZM653.0,312.0L653.3,311.2L653.9,311.2L654.7,312.3L653.6,312.9ZM652.9,314.3L652.5,312.6L654.4,312.5L654.9,313.7ZM655.0,315.8L653.5,315.1L654.8,313.7ZM654.3,317.3L653.2,317.9L653.1,316.9ZM653.5,318.9L652.5,318.4L653.7,317.4ZM655.8,320.9L654.4,322.3L653.3,320.4L654.7,319.4ZM655.1,323.3L654.2,324.1L653.3,322.6L654.3,321.9L655.4,322.1ZM652.8,324.2L654.5,323.1L654.8,324.7ZM653.8,326.1L653.3,326.0L653.1,324.8L653.8,324.7ZM654.1,329.0L653.5,329.6L652.0,328.6L652.9,326.9L653.8,327.5ZM653.1,329.3L653.7,328.1L654.5,328.7L654.2,329.6ZM652.1,331.6L653.5,329.6L654.5,331.1L653.2,331.8ZM653.0,334.9L652.1,333.7L653.7,332.8ZM652.7,335.5L651.9,334.4L653.5,334.5Z" stroke-width="1.4"/>
<path d="M529.0,221.0L529.2,224.2L530.2,226.7L530.9,228.7L530.4,231.5L529.0,233.7L527.8,236.6L529.5,239.2L530.5,240.7L532.9,244.0L534.5,245.9L536.2,244.6L538.3,241.5L540.5,239.7L542.9,237.3L545.0,235.0" stroke-width="1.2"/>
<path d="M516.0,231.0L518.2,231.6L520.3,233.5L522.1,234.7L525.6,236.2L527.5,236.0" stroke-width="1.2"/>
<path d="M534.0,246.0L538.1,249.5L537.9,251.0L537.7,254.4L539.2,256.8L538.7,260.0L539.6,262.3L539.5,265.1L539.9,267.8L540.2,269.4L540.0,272.2L539.2,274.8L539.6,277.4L538.4,280.0L539.0,281.8L539.4,284.8L540.4,286.8L540.5,290.6L541.4,293.2L541.8,295.6L542.4,297.3L542.5,300.0" stroke-width="1.2"/>
<path d="M537.5,249.0L539.4,247.5L542.9,247.2L544.7,245.5L545.8,249.5L545.9,252.4L546.9,254.2L547.1,257.8L549.8,259.6L550.5,262.0L552.1,264.6L555.1,266.1L558.0,268.0" stroke-width="1.2"/>
<path d="M540.0,265.0L541.7,267.1L542.7,269.9L544.0,271.9L545.4,274.3L547.7,276.9L548.7,280.5L550.2,282.2L551.1,284.9L552.2,286.9L552.6,289.5L553.3,292.3L553.8,295.2L555.0,297.5" stroke-width="1.2"/>
<path d="M511.0,226.0L511.2,228.7L512.5,231.4L513.2,234.5L513.4,236.3L513.5,239.7L514.6,241.8L514.8,244.4L516.5,247.5L517.4,250.3L517.5,251.8L519.3,254.2L519.9,257.5L520.6,259.2L522.2,262.2L523.1,264.3L522.5,266.0L522.7,269.9L523.8,272.5L524.8,274.3L525.2,277.0L524.6,279.7L525.9,283.1L525.2,285.0L526.1,287.9L526.4,289.8L525.6,292.5L528.6,295.0L530.5,296.8L532.0,300.2L534.0,302.0" stroke-width="1.2"/>
<path d="M500.0,246.0L501.8,244.4L503.8,241.9L505.3,240.3L507.4,241.4L510.4,243.2L513.2,243.8L514.0,247.6L515.5,250.6L516.2,253.0L517.8,255.9L517.9,257.4L519.3,260.3L521.0,262.5" stroke-width="1.2"/>
<path d="M537.5,302.5L540.4,301.3L541.9,300.6L545.2,299.4L547.2,298.3L549.6,297.9L552.8,298.3L556.1,298.1L559.0,299.0" stroke-width="1.2"/>
<path d="M559.0,265.1L561.5,265.7L558.5,268.3L556.8,266.3ZM558.0,268.0L559.0,268.8L558.4,269.4L557.8,269.2ZM558.2,268.3L559.8,269.9L557.9,270.3ZM560.9,269.3L561.5,271.0L560.3,272.1L558.8,269.8ZM559.0,274.1L557.0,273.1L557.9,269.7L561.6,272.0ZM562.3,273.6L560.4,274.2L560.2,273.3L561.5,272.7ZM563.3,272.9L564.2,273.4L563.5,274.0L562.3,273.3ZM563.3,273.9L564.9,274.5L564.3,276.8L561.8,276.0ZM565.5,277.1L564.2,278.5L562.1,278.6L561.7,277.1L563.7,275.9ZM560.3,279.3L559.5,279.6L559.2,278.1L560.2,278.0ZM559.1,278.7L560.0,279.8L559.1,281.5L558.2,280.2ZM563.5,282.9L562.3,281.8L563.8,281.5ZM559.3,284.4L558.6,283.3L559.0,282.5L560.1,282.0L560.4,283.6ZM562.5,284.8L561.3,285.7L560.1,284.9L560.7,283.3L561.8,283.4ZM558.5,286.2L559.0,285.4L560.1,286.1L559.3,287.0ZM559.7,287.6L559.8,286.9L560.7,286.6L560.9,287.2L560.5,288.1ZM564.0,287.0L564.7,289.4L562.0,289.8L562.3,286.8ZM563.0,291.6L561.8,289.2L564.4,288.9ZM564.5,288.3L564.5,291.7L562.0,289.9ZM560.0,294.2L559.5,293.2L560.7,292.2L561.6,292.6L561.6,294.0ZM566.3,294.2L564.6,295.2L564.9,292.6ZM565.3,295.9L564.1,294.5L565.5,293.6L566.5,293.8L566.1,295.7Z" stroke-width="1.5"/>
<path d="M574.7,273.1L575.1,271.4L576.2,270.8L577.2,272.0L575.8,273.0ZM574.4,275.8L572.4,274.9L572.8,273.5L574.9,273.3L575.3,274.8ZM571.9,275.2L572.8,274.8L572.9,275.8L572.2,276.0ZM576.5,277.5L575.3,277.7L575.4,275.2L576.8,276.2ZM571.8,276.5L574.2,277.8L571.7,279.7ZM574.1,280.7L575.0,278.5L576.5,279.5L576.2,280.5L574.9,281.1ZM576.5,279.7L577.9,281.1L576.0,282.5L575.5,280.6ZM572.8,281.5L574.4,281.7L574.3,283.5L572.9,283.3ZM573.5,283.6L574.2,282.6L575.3,283.0L574.4,284.3ZM573.8,285.7L573.5,284.4L574.5,284.0L575.0,285.0ZM572.2,287.2L570.8,285.2L573.6,285.5ZM571.6,288.2L572.6,287.0L573.5,288.8ZM573.9,287.7L572.8,290.8L571.5,288.9ZM572.8,290.2L569.7,291.1L570.5,289.2ZM573.9,293.5L570.3,293.8L571.7,291.0ZM575.0,292.3L576.3,293.4L575.3,295.3L573.8,295.0L573.0,294.2ZM573.4,293.6L573.6,295.4L572.1,297.0L571.1,295.2ZM574.6,295.6L573.8,297.9L572.4,298.4L571.2,296.6L572.1,295.3ZM572.1,300.6L570.3,298.0L573.7,296.5ZM571.7,300.0L572.0,298.7L574.3,299.3L573.7,301.0ZM574.1,300.0L575.3,302.1L573.6,303.1L571.7,301.8L572.6,300.0ZM573.4,301.2L575.6,301.7L573.4,303.7ZM572.9,303.5L574.3,301.6L575.3,303.0L574.4,304.5ZM570.4,303.9L571.8,302.8L573.2,303.6L572.1,305.5ZM575.6,306.2L575.0,307.5L573.1,306.8L574.0,305.0ZM570.8,308.5L570.1,306.7L572.5,305.6L573.0,307.7ZM572.1,310.8L573.1,308.3L575.6,309.1L573.9,311.7Z" stroke-width="1.5"/>
<path d="M566.3,270.5L563.5,271.1L563.9,268.6ZM566.8,268.1L568.8,268.0L568.9,269.0L568.0,270.3L566.0,269.3ZM569.2,270.2L569.1,272.1L567.6,272.9L565.9,270.4ZM569.1,270.1L570.6,269.5L570.5,271.3ZM568.7,270.5L570.4,268.9L572.1,270.8L569.5,273.1ZM571.8,273.4L572.1,271.8L573.7,273.1ZM573.6,270.3L573.4,271.4L572.5,271.8L572.0,270.5L572.9,270.1ZM574.6,268.7L575.2,269.6L574.7,271.1L573.7,270.1ZM575.4,271.3L575.9,270.5L576.5,271.5L575.9,271.8ZM576.7,268.3L575.0,267.7L575.2,265.5L577.8,267.1ZM578.1,267.5L577.6,269.1L576.5,268.0ZM578.8,270.8L577.8,270.8L577.6,269.0L578.5,268.3L579.6,269.6ZM579.2,271.4L578.1,271.2L578.5,270.4L579.5,270.4ZM579.5,271.4L580.7,270.6L582.6,271.6L580.6,273.1ZM582.7,269.5L583.8,270.7L582.9,271.1L581.8,270.7ZM582.7,274.3L581.4,273.3L583.2,271.7L584.7,272.9ZM585.5,274.0L584.2,273.0L584.0,271.7L586.2,272.2ZM586.3,275.4L585.3,275.1L584.7,274.2L585.8,273.6L586.5,274.0ZM585.0,273.9L587.1,272.9L589.3,273.6L588.6,275.7L586.5,275.6ZM585.7,278.6L584.1,278.8L584.1,277.5L585.1,277.2ZM586.6,280.2L585.2,280.4L584.8,278.8L586.0,278.0ZM586.9,280.6L586.0,279.8L586.3,278.6L587.4,278.9ZM587.6,281.6L588.2,280.3L590.6,280.6L589.6,282.8ZM585.0,280.2L586.7,279.6L586.9,281.2L585.4,281.8ZM585.5,282.6L583.4,283.7L583.8,282.1ZM586.9,284.8L587.3,286.7L586.4,287.5L584.4,286.1L585.1,284.0ZM585.9,284.5L587.2,287.3L584.0,287.3ZM583.3,286.2L582.2,285.5L583.1,284.0L583.9,284.8Z" stroke-width="1.5"/>
<path d="M573.1,311.5L573.9,311.5L573.3,312.3ZM569.8,312.3L572.3,312.5L570.4,314.2ZM569.7,310.0L569.8,313.6L567.1,311.9ZM570.4,314.8L569.0,316.4L567.1,314.3L569.7,312.8ZM569.9,316.2L568.9,317.3L568.5,315.7ZM568.3,314.5L567.8,316.5L565.6,316.6L566.8,313.7ZM566.2,317.6L568.1,317.0L568.9,318.5L568.4,319.9L566.2,319.8ZM563.5,316.1L565.9,316.0L565.7,319.2L563.7,319.0ZM565.2,320.9L563.1,320.0L563.8,317.8L565.7,318.1ZM561.7,320.8L563.1,319.5L564.0,320.4L563.5,321.7ZM562.3,320.8L560.0,320.6L560.0,319.1L562.3,319.6ZM559.4,320.4L561.1,319.9L562.8,320.4L562.1,322.0L560.4,322.1ZM561.1,320.7L562.7,324.2L559.0,323.1ZM563.2,325.3L561.9,326.0L561.9,324.3ZM561.5,325.0L563.8,326.8L560.7,328.1ZM560.2,326.0L562.5,328.1L559.7,328.6L559.0,327.3Z" stroke-width="1.5"/>
<path d="M540.6,305.9L538.4,305.6L539.9,303.7ZM539.7,306.7L540.8,309.2L538.3,308.8ZM542.5,306.6L541.7,304.6L543.7,305.7ZM542.0,308.3L541.3,306.3L543.6,305.3L544.3,307.2ZM543.4,309.0L544.7,308.9L544.6,311.2L543.1,310.7L542.3,309.6ZM546.8,308.9L546.2,310.2L545.2,310.8L544.4,309.1L545.4,308.4ZM545.9,308.6L544.7,306.9L546.1,306.7ZM546.5,305.7L548.9,306.3L549.6,307.7L547.4,308.7L546.0,308.2ZM549.8,308.5L548.1,308.4L548.1,307.1L549.8,306.8ZM551.2,307.9L550.5,306.8L550.9,305.7L551.6,306.1L551.9,307.2ZM553.2,304.9L552.2,306.2L551.0,306.7L550.0,305.7L550.9,304.3ZM554.0,305.8L554.0,307.5L552.7,306.4ZM552.6,308.4L551.3,306.0L553.2,305.1L554.0,306.5ZM556.4,306.3L555.0,308.1L553.7,306.0ZM556.8,306.6L557.3,304.1L559.3,306.6ZM557.2,309.7L556.1,310.2L555.8,308.9ZM558.4,310.2L557.1,307.7L558.8,306.6L560.6,309.3ZM557.9,310.5L559.3,309.7L559.7,311.3Z" stroke-width="1.5"/>
<path d="M547.4,305.4L546.5,306.3L545.7,305.9L545.7,304.9L547.3,304.9ZM545.4,306.1L546.2,306.5L546.3,307.9L545.5,308.0L544.7,307.1ZM548.1,308.6L547.5,307.5L548.5,307.0L549.1,307.8ZM548.7,309.1L550.6,309.8L549.1,311.0ZM548.6,310.8L549.7,310.3L550.3,311.0L549.4,311.9ZM548.4,313.9L549.6,313.0L550.2,314.0L549.6,315.2ZM550.9,314.8L550.5,316.6L549.5,315.8L549.8,314.8ZM548.2,315.7L549.1,317.9L547.3,318.7L546.2,317.1Z" stroke-width="1.2"/>
<path d="M569.5,320.8L572.5,321.3L570.6,323.7ZM569.9,318.3L570.7,318.3L571.2,319.2L570.1,319.9ZM569.1,318.2L570.3,316.0L572.7,316.2L572.4,318.4ZM570.1,315.9L571.9,315.9L572.1,318.6L569.8,317.8ZM575.2,316.2L573.1,317.3L572.3,317.0L572.7,315.3L574.1,314.8ZM574.9,317.8L573.8,316.6L574.6,315.9L575.7,316.5ZM573.9,316.1L574.4,315.6L575.6,315.8L575.7,316.7L575.0,316.8ZM574.8,314.7L577.5,314.8L576.9,317.1L575.6,317.1ZM577.0,317.8L577.5,315.7L578.5,316.0L578.6,317.7ZM579.6,319.3L576.8,319.3L578.0,317.0ZM578.1,319.3L580.2,317.6L581.4,319.1L580.1,320.5ZM580.8,319.9L580.9,318.7L582.0,318.6L582.4,319.6L581.7,320.1ZM582.6,321.5L581.0,321.3L581.1,319.9L582.7,320.5ZM580.9,324.7L579.6,324.3L580.0,323.3L580.5,322.8L581.8,324.0ZM582.9,325.8L581.4,325.6L580.6,325.6L581.4,323.8L582.7,323.7ZM583.6,323.2L585.0,324.5L583.7,325.7L581.6,324.6ZM582.8,326.7L583.7,327.3L583.8,328.1L582.4,328.0ZM583.0,329.0L582.4,328.4L582.8,327.4L583.8,327.9ZM585.2,329.7L585.3,327.0L587.5,327.7L586.8,329.4ZM585.8,327.9L587.8,328.2L586.7,329.8ZM586.3,327.7L588.4,327.0L588.7,329.1L587.1,329.5ZM588.1,331.6L587.7,330.5L589.2,330.6ZM590.2,330.9L591.4,330.9L591.7,332.3L590.9,332.9L589.6,331.4ZM592.6,330.5L591.6,330.3L591.4,329.3L591.8,329.3L592.6,329.6ZM593.1,331.3L591.5,331.2L593.3,330.0ZM592.8,328.2L594.7,328.4L594.7,331.1L593.0,330.8ZM594.4,330.8L594.3,329.7L594.9,329.5L595.4,330.6Z" stroke-width="1.5"/>
<path d="M599.1,331.6L599.3,332.4L599.0,332.8L597.6,332.3L597.8,331.5ZM599.3,335.1L596.2,334.2L597.4,332.3L599.0,332.3ZM599.5,331.7L601.4,334.9L599.2,335.9ZM601.1,336.2L599.8,335.6L600.9,334.7ZM602.6,336.5L600.9,338.7L599.4,337.8L599.6,334.7L601.5,334.2ZM602.3,336.0L603.5,336.3L602.9,337.4ZM607.6,338.7L606.4,340.2L605.0,338.1ZM607.2,339.1L606.0,342.3L603.5,340.1L604.2,338.2ZM601.9,342.0L601.0,341.2L603.0,340.4ZM601.4,344.7L602.1,342.5L603.5,343.3L603.2,344.6ZM602.1,345.4L604.1,343.3L607.1,345.1L604.5,347.0ZM602.8,345.9L605.5,345.4L603.9,348.6ZM605.0,347.8L606.3,348.3L606.9,350.0L606.3,350.7L604.5,349.1ZM606.7,350.1L603.4,350.3L602.9,348.9L604.9,347.3ZM601.8,349.8L599.1,349.2L598.5,347.9L600.1,347.0L601.6,348.4ZM602.3,350.5L603.8,351.9L602.6,352.7L600.3,351.3ZM599.0,351.6L597.8,351.2L598.3,350.1L599.6,350.7ZM598.7,352.5L597.3,352.5L597.1,350.0L599.1,349.7Z" stroke-width="1.5"/>
<path d="M595.6,359.0L596.8,357.4L597.5,358.4L597.1,359.7ZM599.5,360.7L596.6,361.9L596.6,359.7L598.1,358.9ZM597.2,361.3L597.6,360.8L599.1,361.3L598.1,362.1ZM594.0,362.4L595.0,361.1L596.1,362.0L595.5,363.9ZM596.8,365.6L595.8,364.9L596.9,363.7L597.7,364.9ZM590.5,362.9L591.8,362.2L593.5,363.8L592.7,365.6L591.3,366.3ZM597.5,365.5L597.1,366.8L595.4,366.6L595.9,364.1ZM597.0,366.3L596.5,368.5L595.0,367.6L596.0,365.5ZM597.0,366.4L599.3,366.9L598.8,369.6L595.7,368.9ZM593.8,371.9L592.3,372.2L592.5,370.5L594.2,370.3ZM592.7,374.4L592.9,372.4L595.1,372.0L595.3,374.8ZM596.1,375.0L594.5,373.7L596.4,372.5ZM597.6,374.2L596.8,374.2L596.9,373.2L597.6,373.0ZM599.5,377.3L596.7,377.5L597.3,375.6L599.0,375.4ZM600.5,372.5L601.9,372.5L602.8,373.7L600.7,373.8ZM601.8,374.2L603.8,376.6L602.8,378.3L600.4,377.5ZM604.4,374.6L606.1,376.2L604.0,377.4L602.5,377.7L602.1,375.2ZM605.7,377.0L604.1,377.6L603.8,375.6ZM607.5,375.8L607.9,377.0L607.5,379.3L604.9,379.1L605.3,376.7ZM609.1,375.8L609.4,377.7L608.6,377.8L607.2,377.4L607.9,375.9ZM606.3,377.3L607.3,375.2L609.3,375.7L610.2,378.1L607.8,378.8ZM611.0,375.9L612.8,377.8L610.5,379.2L608.6,376.5ZM609.5,382.2L608.9,379.6L610.5,378.5L612.0,380.5ZM611.6,379.6L612.6,379.5L613.4,380.0L612.9,380.7L612.1,380.7ZM612.4,379.9L612.7,377.2L615.8,378.7L615.6,381.2ZM614.5,380.8L614.4,379.1L616.9,378.6L616.9,380.8ZM615.7,377.5L617.9,377.9L617.2,379.4L615.9,379.1ZM617.5,379.2L617.5,377.8L619.4,377.8L618.9,379.3Z" stroke-width="1.5"/>
<path d="M647.3,340.6L646.9,339.9L647.9,339.3L648.4,340.0L648.1,340.5ZM648.0,341.6L647.1,342.8L646.1,342.2L647.1,341.2ZM643.6,341.7L644.4,340.2L645.7,340.6L644.9,342.1ZM645.4,342.7L644.2,343.7L643.5,342.6L644.5,342.1ZM642.3,343.6L641.2,343.8L641.3,342.7ZM641.3,342.8L642.3,344.1L641.9,345.1L640.4,344.3L640.6,343.2ZM641.7,345.1L642.5,345.3L643.2,346.3L641.4,346.9ZM641.9,346.5L642.6,347.4L641.8,347.8L641.0,347.1ZM639.6,348.6L638.5,347.5L639.5,346.2L640.6,347.9ZM638.9,347.1L640.6,347.8L640.3,350.1L638.1,349.5L638.0,348.7ZM638.6,349.4L639.5,349.6L639.3,350.5L638.1,350.2ZM636.4,352.1L637.1,351.3L638.9,352.6L637.7,353.3ZM635.7,352.8L636.8,352.3L637.4,354.0L636.4,354.4ZM636.9,353.4L637.9,354.3L636.4,355.7L635.0,354.0ZM634.0,354.4L634.7,353.1L635.7,354.0L635.3,355.0ZM636.6,356.4L634.9,358.2L634.0,357.2L635.5,355.7ZM633.4,359.0L632.8,357.5L634.1,357.2L634.6,358.6ZM633.1,360.2L632.3,359.4L633.1,358.2L634.2,359.0ZM632.3,359.0L631.9,360.5L630.5,358.6ZM631.0,360.9L631.7,362.7L630.3,362.2ZM630.7,361.8L631.7,362.8L630.8,363.8L629.5,364.0L629.0,362.4ZM630.9,362.1L632.0,363.3L631.0,364.4L629.4,363.6ZM627.6,364.0L628.0,362.9L628.5,364.2ZM628.1,366.0L626.9,365.7L627.4,364.6L628.4,365.0ZM627.2,367.9L627.6,366.3L628.9,366.7ZM625.7,367.6L626.7,367.1L627.6,368.0L626.7,368.5ZM628.0,370.1L626.2,369.6L626.4,368.1L628.4,368.5ZM624.9,370.3L624.1,370.2L623.5,369.4L624.3,368.5L625.1,369.1ZM624.0,372.4L623.2,370.9L624.0,370.5L625.0,371.2ZM623.0,372.7L622.5,371.3L623.7,371.6ZM625.6,374.1L624.1,374.5L623.5,373.9L624.5,373.0ZM625.5,374.9L624.0,376.1L623.0,375.3L624.2,374.6ZM621.2,378.2L620.5,376.0L621.6,375.4L622.9,376.3L622.7,377.9ZM621.1,378.3L622.1,377.2L623.3,377.8L623.3,378.8L621.8,379.0ZM621.5,378.1L621.8,378.7L621.3,379.5L620.6,378.8L620.7,378.3ZM621.8,380.3L620.8,381.1L620.2,380.8L620.6,379.9L621.3,379.7ZM620.6,381.8L619.9,380.2L622.0,379.5L622.2,381.0L621.4,381.9ZM619.6,383.7L619.2,382.9L620.6,381.5L621.3,382.7ZM619.8,383.7L619.3,385.0L618.8,384.0ZM619.3,384.8L620.9,384.7L621.0,385.7L620.5,386.0L619.4,385.5ZM618.9,388.0L619.1,386.7L620.8,386.7L620.2,388.7ZM622.2,387.4L621.9,389.3L620.3,389.3L619.4,388.2ZM620.9,388.9L620.0,390.5L619.5,389.1Z" stroke-width="1.6"/>
<path d="M643.9,344.9L644.5,344.7L645.8,344.9L645.2,346.5L644.2,346.3ZM643.0,345.8L645.4,346.2L644.4,348.3L642.9,347.4ZM641.5,347.6L643.9,347.6L644.2,349.3L642.3,349.8ZM643.3,348.0L644.7,349.1L644.0,350.5L642.7,349.9L642.1,348.6ZM641.1,350.9L641.7,349.2L643.4,349.7L643.7,351.7L642.3,352.6ZM641.1,352.8L639.9,352.3L640.2,351.5L641.4,352.1ZM643.1,354.3L641.7,353.9L641.2,351.8L643.5,351.9ZM640.5,354.4L641.9,353.8L643.0,355.1L642.1,356.1ZM638.3,354.5L640.0,355.3L639.4,356.3L638.0,356.0ZM641.1,355.5L642.0,356.1L641.9,357.3L640.1,357.0L640.0,356.2ZM639.0,356.6L639.1,357.9L638.3,358.2L637.7,357.4L638.0,356.8ZM641.6,358.6L641.5,360.5L639.7,360.3L640.2,358.7ZM640.1,361.6L640.3,360.1L642.2,360.8L642.1,362.2ZM637.9,362.7L636.3,360.9L639.1,360.1ZM639.0,364.1L638.6,362.4L640.5,362.7ZM635.0,366.0L635.8,363.3L638.2,363.6L637.9,366.0ZM635.3,365.8L638.3,364.0L638.6,366.6ZM637.0,367.8L637.8,367.3L637.6,368.6ZM636.1,370.1L635.1,369.7L636.0,368.1L637.5,368.0L637.6,369.9ZM637.1,371.5L635.7,370.0L637.6,370.1ZM639.1,370.6L639.7,372.6L637.8,373.4L636.5,371.6L636.9,370.2ZM639.8,373.1L639.4,374.9L637.4,373.7L638.8,372.5ZM637.3,376.1L636.6,375.0L636.9,374.0L638.4,373.7L638.7,375.0ZM634.8,376.9L635.7,374.3L637.3,375.1L636.4,377.4ZM638.3,378.6L637.2,378.5L636.7,377.8L637.0,377.2L637.9,377.0ZM634.0,379.3L634.3,378.4L635.6,378.3L635.7,379.1L634.7,379.8ZM638.0,379.8L636.2,380.2L636.7,378.3ZM634.2,381.3L636.2,380.3L637.2,381.4L636.6,383.3L635.6,383.0ZM634.9,384.6L633.7,383.6L634.0,381.1L636.1,382.2ZM632.9,382.6L634.4,381.7L635.4,384.4L633.7,384.3ZM632.8,385.3L633.2,384.0L634.6,384.0L634.0,385.7ZM634.6,386.5L636.4,386.5L636.1,387.5ZM635.9,386.5L635.0,388.9L633.7,388.8L632.9,387.0L633.5,385.4ZM634.3,389.5L634.0,388.0L635.4,388.3L635.2,389.4ZM634.3,389.0L635.9,391.1L633.5,392.5L631.8,391.2ZM634.6,391.4L637.2,392.8L634.4,393.8ZM633.5,392.3L634.5,392.3L633.9,393.9L632.5,392.8ZM636.8,393.4L637.3,394.6L637.0,395.3L635.3,394.7L635.7,393.8ZM635.8,395.3L637.1,395.7L636.6,397.4L635.0,396.6ZM633.9,397.0L635.4,397.0L635.6,398.3L634.4,399.1L633.5,397.8ZM631.5,398.6L635.2,398.3L632.8,400.6ZM631.8,401.7L632.0,400.4L633.4,400.6L633.2,401.6ZM633.5,400.8L634.0,401.8L633.2,402.5L632.4,401.5ZM633.9,403.6L631.8,403.0L633.5,401.9ZM632.9,405.9L631.7,403.9L633.3,403.7ZM634.3,405.4L635.9,404.7L636.4,406.2L634.5,406.6ZM636.4,408.4L635.3,407.3L636.0,406.6L637.3,407.5ZM631.7,409.5L632.5,407.5L634.1,408.4L633.3,410.2ZM635.2,411.1L632.8,411.4L632.2,410.5L633.4,409.2L635.3,409.9ZM635.4,412.1L636.4,410.5L637.5,412.0ZM636.7,413.0L635.2,412.4L636.0,411.1L637.3,411.3L637.9,412.2ZM635.5,415.5L634.5,411.7L637.5,413.0ZM635.7,414.4L635.5,415.8L634.0,415.9L633.0,414.7L633.8,413.8ZM634.3,415.3L635.7,415.7L636.1,416.9L634.2,418.2L633.1,416.6ZM634.2,418.2L635.2,418.1L635.1,418.9L634.1,418.7ZM636.9,418.9L635.7,420.2L634.6,419.5L635.0,418.4ZM636.1,420.2L637.2,419.5L638.5,420.4L636.7,421.5ZM635.5,421.6L636.2,421.5L636.5,422.5L635.7,422.6ZM633.9,421.4L635.8,423.6L632.9,424.3ZM636.4,424.7L636.3,423.3L638.3,423.0L638.5,424.0L637.7,425.8ZM635.9,426.3L634.4,426.1L635.0,424.7L636.2,425.3ZM635.2,427.5L635.4,426.6L636.3,426.1L636.6,427.3L636.1,427.9ZM636.0,429.2L636.6,428.1L639.0,428.1L637.8,430.7ZM637.1,430.1L638.2,429.9L637.2,431.0ZM639.2,432.9L636.8,431.9L637.1,429.8L639.4,429.6L640.4,431.7ZM636.9,433.0L635.3,433.2L635.7,431.1L637.2,431.7ZM635.2,433.7L636.1,433.1L637.1,434.0L636.8,434.9L635.5,435.3ZM637.7,435.7L637.4,434.2L639.0,435.1ZM638.6,434.7L640.5,437.2L638.6,437.4L637.4,435.2ZM636.9,439.4L635.5,438.6L636.8,437.9ZM636.3,438.7L637.1,438.2L638.4,438.7L638.2,440.0L636.9,440.6Z" stroke-width="1.5"/>
<path d="M638.3,384.0L638.3,448.0" stroke-width="1.3"/>
<path d="M629.0,406.0L633.0,404.0L634.3,407.0L634.8,409.7L633.2,412.3L630.6,414.4L630.2,411.8L629.9,409.2Z" stroke-width="1.3"/>
<path d="M600.5,282.0L602.6,283.6L604.1,286.6L606.4,288.5L608.1,290.3L609.4,292.1L611.1,294.1L613.9,295.3L615.2,296.7L618.8,297.2L620.5,298.4L622.6,300.5L625.0,298.6L627.5,297.0" stroke-width="1.2"/>
<path d="M638.0,297.0L638.2,299.3L637.8,302.5L636.7,306.0L636.8,309.7L634.7,311.0L632.6,313.2L630.1,314.8L626.3,313.1L624.1,315.4L621.4,317.0L618.7,317.6L617.6,319.1L616.7,322.1L615.2,324.9L614.2,327.6L612.4,328.6L609.9,328.6L607.8,330.8L604.4,331.6L602.9,330.6L600.4,329.0L597.5,328.5" stroke-width="1.2"/>
<path d="M651.5,325.5L648.4,323.9L645.8,322.0L643.6,320.4L642.2,323.2L641.1,326.2L641.2,327.1L639.1,330.4L636.2,330.8L633.7,331.3L630.7,331.5L628.1,332.3L625.9,334.0L622.5,335.5L624.1,339.1L624.5,341.3L625.7,344.2L626.3,346.8L625.4,350.2L624.6,352.3L624.4,355.9L621.7,357.6L620.2,358.6L617.3,359.5L615.1,361.3L614.2,364.7L612.1,366.2L610.6,369.5L607.9,370.4L606.5,370.8L603.5,372.0" stroke-width="1.2"/>
<path d="M626.0,346.5L628.5,348.2L629.8,349.6L631.8,350.7L634.0,348.6L636.9,346.6L639.5,345.0" stroke-width="1.2"/>
<path d="M615.5,361.5L618.3,361.8L621.1,363.5L623.2,365.3L624.5,367.5" stroke-width="1.2"/>
<path d="M638.0,297.0L640.0,299.2L641.1,302.1L643.5,302.6L647.1,302.9L650.0,303.0" stroke-width="1.2"/>
<path d="M615.5,418.4L617.1,420.1L615.3,421.4L614.5,419.5ZM615.8,423.1L614.5,422.8L615.0,421.9L615.7,422.3ZM614.9,423.6L614.0,424.7L612.4,423.7L613.0,422.6L614.7,422.9ZM611.9,425.7L611.4,424.6L612.4,423.5L612.9,424.5ZM611.3,425.9L613.3,425.5L614.2,426.6L611.7,427.8ZM610.7,428.2L612.2,428.4L611.6,429.2ZM610.0,430.8L609.3,429.5L609.4,428.7L610.7,428.9L610.7,430.7ZM611.0,429.6L612.8,431.3L611.0,432.0ZM610.2,433.8L611.3,431.8L611.8,434.3ZM610.5,435.3L611.6,436.8L609.6,437.4ZM612.6,438.2L610.8,438.6L611.1,436.1ZM610.5,439.7L611.1,438.6L612.0,439.3L611.2,440.1ZM612.9,440.0L613.5,440.5L613.8,441.4L612.5,441.7L612.2,440.8ZM612.1,443.0L612.4,440.8L614.1,440.7L613.6,442.9ZM612.7,443.8L613.4,442.8L614.0,443.8ZM615.1,443.6L615.2,444.7L614.0,444.7L614.4,443.6ZM613.4,445.2L615.5,444.4L616.4,445.2L616.4,446.5L614.5,446.6ZM618.2,445.3L618.7,446.6L617.5,446.6L616.9,445.6ZM618.3,450.2L617.7,447.6L619.3,448.4ZM621.1,450.2L619.8,450.6L619.0,449.4L620.8,448.6ZM618.9,449.4L620.1,448.5L621.5,449.1L620.1,450.6ZM622.1,450.7L621.4,449.8L622.4,448.6L623.0,449.4ZM625.0,449.7L623.1,449.8L623.0,447.8L624.6,447.9ZM626.5,449.8L624.9,450.9L624.0,449.7L624.8,448.3ZM626.8,449.7L626.4,448.9L627.6,448.8L628.0,449.5ZM627.8,449.5L629.2,449.6L629.8,450.5L629.2,451.3L627.7,451.2ZM631.5,451.1L629.4,450.6L630.4,449.4L632.2,449.2L632.2,450.3ZM633.6,448.7L631.8,448.9L631.3,446.8L632.9,446.7ZM634.5,447.7L633.8,448.6L632.8,448.4L633.8,447.3ZM633.9,447.4L635.4,447.3L635.9,448.2L634.2,448.7ZM637.4,447.1L636.7,446.2L637.0,445.9L638.1,446.6ZM635.6,443.4L637.4,443.4L638.2,444.5L637.8,445.2L636.0,445.1ZM635.8,441.6L637.4,441.9L636.3,443.3ZM638.7,440.3L639.8,442.2L638.7,442.8L637.7,441.2Z" stroke-width="1.7"/>
<path d="M616.0,420.0L618.3,423.0L620.3,425.8L622.7,426.2L625.2,426.2L627.7,426.0L627.9,423.0L630.0,423.3L629.8,425.8L630.3,428.6L629.8,430.8L633.8,431.0" stroke-width="1.3"/>
<path d="M612.0,432.0L615.0,430.6L618.0,430.3L619.4,432.4L621.9,436.4L619.6,438.9L618.0,442.0" stroke-width="1.2"/>
<path d="M622.0,436.0L624.8,435.2L627.4,433.3L629.0,435.4L630.5,437.4L631.7,440.7L631.1,441.9L629.9,445.3L628.0,447.0" stroke-width="1.2"/>
<path d="M618.0,442.0L621.2,443.2L623.4,444.8L628.0,447.0" stroke-width="1.2"/>
<path d="M830.0,432.5L828.2,434.0L826.1,435.9L824.1,437.0L823.3,439.9L823.0,442.5L822.6,445.5L822.4,447.8L822.3,449.5L821.5,452.7L821.5,455.4L821.2,457.6L821.1,460.2L821.3,462.4L820.7,465.0L820.7,467.9L820.5,469.6L820.8,472.5L820.5,475.4L820.9,477.9L821.4,479.9L822.5,483.0L822.1,485.0L823.3,487.4L824.8,489.6L825.6,493.0L827.2,489.8L829.5,488.0L831.0,485.6L832.4,483.3L832.6,481.0L833.3,477.7L833.3,475.0L832.4,472.4L832.2,470.0L832.1,467.9L832.8,465.0L832.7,462.1L831.9,459.5L831.7,457.3L832.4,454.4L832.4,452.1L832.1,449.3L831.7,446.5L831.6,444.3L832.0,441.7L831.8,438.6L831.5,436.3L832.3,434.0Z" stroke-width="2.2"/>
<path d="M823.0,445.0L828.0,447.0L831.0,452.0" stroke-width="1.2"/>
<path d="M822.0,460.0L828.0,458.0L831.0,465.0" stroke-width="1.2"/>
<path d="M822.0,472.0L827.0,470.0L832.0,476.0" stroke-width="1.2"/>
<path d="M823.0,480.0L829.0,484.0L831.0,480.0" stroke-width="1.2"/>
<path d="M826.0,438.0L827.0,447.0" stroke-width="1.2"/>
<path d="M787.5,546.0L790.2,546.2L792.7,545.5L795.4,545.3L797.0,545.4L800.4,544.9L802.6,544.3L805.1,544.3L803.2,546.9L802.5,548.7L800.4,550.4L799.5,552.7L797.5,554.7L796.6,557.3L794.5,559.4L793.0,560.6L792.1,562.6L789.9,564.5L788.8,566.5L786.7,568.5L785.6,570.7L783.4,572.2L784.4,569.5L785.0,566.9L784.5,564.3L784.9,562.3L785.8,559.3L786.1,556.3L786.3,554.2L787.1,551.7L787.4,549.1Z" stroke-width="2.0"/>
<path d="M790.6,549.2L787.0,551.5L789.7,554.7L786.1,556.9L788.9,560.1L785.3,562.3L788.0,565.5L784.4,567.8" stroke-width="1.2"/>
<path d="M788.0,552.0L790.7,551.6L794.3,550.5L797.2,550.0L796.1,552.8L794.1,555.0L793.2,557.4L792.5,560.0L790.0,561.3L787.0,562.0" stroke-width="1.2"/>
<path d="M814.5,532.0L817.1,530.2L820.0,528.5L822.6,528.4L825.0,528.2L823.2,529.9L820.9,531.9L818.4,532.9L816.1,533.5Z" stroke-width="2.0"/>
<path d="M513.0,575.0L515.3,574.2L517.7,574.1L519.9,574.3L522.7,572.9L525.4,572.1L527.0,570.4L530.4,570.8L532.2,568.3L535.3,567.5L537.8,568.3L540.2,568.5L543.7,569.0L545.6,567.9L547.6,571.6L544.7,573.9L542.1,574.3L538.9,577.2L537.7,578.5L534.7,580.5L533.8,582.4L531.3,584.5L528.5,583.0L527.4,581.6L524.8,579.4L521.9,578.3L519.1,577.8L515.8,577.6Z" stroke-width="2.0"/>
<path d="M518.4,574.2L521.4,578.4L522.1,573.2L525.2,577.4L525.8,572.3L528.9,576.5L529.6,571.4L532.6,575.6L533.3,570.5L536.3,574.6L537.0,569.5L540.0,573.7L540.7,568.6L543.7,572.8L544.4,567.7" stroke-width="1.3"/>
<path d="M531.0,583.0L532.2,580.2L532.1,578.0L532.6,575.4L536.2,573.6L538.7,571.8L541.0,570.0" stroke-width="1.2"/>
<path d="M563.3,553.5L565.0,555.9L567.0,558.1L569.0,559.2L566.0,562.4L565.1,565.1L566.3,567.0L565.7,569.6L567.6,572.0L569.2,574.8L568.8,576.4L567.1,578.8L566.6,582.2L564.7,583.9L563.7,586.5L562.7,584.0L560.9,580.9L560.3,579.3L559.5,575.9L558.8,573.5L560.9,570.4L563.0,569.0L562.9,566.0L562.5,563.3L563.5,560.9L563.4,556.6Z" stroke-width="2.0"/>
<path d="M565.0,565.9L561.1,568.0L565.2,569.7L561.3,571.8L565.4,573.5L561.5,575.6L565.6,577.3L561.7,579.4L565.8,581.1L561.9,583.2L566.0,584.9" stroke-width="1.3"/>
</g>
<path d="M319.0,200.0L321.0,199.0L323.5,203.0L325.5,208.0L324.5,210.5L321.5,209.5L320.0,205.0Z" fill="#000"/>
<path d="M598.0,473.0L600.5,462.0L604.0,458.0L610.0,452.5L617.0,451.0L615.0,453.8L610.0,456.5L605.0,464.0L601.0,469.0Z" fill="#000"/>
<path d="M562.0,466.5L566.0,465.5L571.0,465.3L567.0,468.0L562.0,468.6Z" fill="#000"/>
<path d="M843.8,492.5L848.0,495.0L852.5,498.0L852.0,500.5L847.0,498.0L843.5,494.0Z" fill="#000"/>
<path d="M840.5,477.5L841.8,477.5L841.8,481.5L840.5,481.5Z" fill="#000"/>
<path d="M835.5,521.0L837.0,521.0L837.0,525.5L835.5,525.5Z" fill="#000"/>
<path d="M853.5,522.5L855.5,523.0L856.0,531.0L857.5,541.0L855.5,541.0L854.0,532.0Z" fill="#000"/>
<path d="M767.5,637.5L769.5,637.5L769.8,650.0L768.0,650.0Z" fill="#000"/>
<path d="M589.0,449.0L592.0,449.0L592.0,452.0L589.0,452.0Z" fill="#000"/>
<path d="M595.0,417.5L601.0,419.0L601.0,420.5L595.0,419.5Z" fill="#000"/>
<path d="M598.5,432.0L600.5,432.0L600.5,435.0L598.5,435.0Z" fill="#000"/>
<path d="M572.0,527.0L574.5,526.5L574.0,530.5L572.0,530.5Z" fill="#000"/>
<path d="M563.5,554.0L568.0,558.0L564.0,560.0Z" fill="#000"/>
<path d="M474.3,648.5L476.7,648.5L476.7,650.8L474.3,650.8Z" fill="#000"/>
<path d="M480.4,646.4L482.8,647.0L483.5,648.8L481.0,648.3Z" fill="#000"/>
<path d="M524.0,652.5L526.5,652.5L525.5,655.5L524.0,655.0Z" fill="#000"/>
<path d="M564.0,640.0L567.0,640.5L566.5,643.5L565.0,642.5Z" fill="#000"/>
<path d="M471.0,338.0L474.5,338.5L474.5,341.0L471.0,340.5Z" fill="#000"/>
<path d="M484.5,341.0L488.0,340.5L491.0,343.0L490.0,345.0L486.0,344.0Z" fill="#000"/>
<path d="M547.0,331.5L552.0,331.0L552.0,335.5L547.5,335.0Z" fill="#000"/>
<path d="M259.5,434.5L261.5,434.5L261.5,437.5L259.5,437.5Z" fill="#000"/>
<path d="M597.5,420.5L599.0,420.5L599.0,422.0L597.5,422.0Z" fill="#000"/>
<path d="M251.5,411.5h12M260.5,409v5" stroke="#aaaaaa" stroke-width="1" fill="none"/>
</g>
<rect x="46" y="71" width="908" height="659" fill="none" stroke="#000" stroke-width="2"/>
<g stroke="#000" stroke-width="1">
<path d="M48.5,731v3.5"/>
<path d="M155.5,731v3.5"/>
<path d="M262.5,731v3.5"/>
<path d="M368.5,731v3.5"/>
<path d="M475.5,731v3.5"/>
<path d="M582.5,731v3.5"/>
<path d="M688.5,731v3.5"/>
<path d="M795.5,731v3.5"/>
<path d="M901.5,731v3.5"/>
<path d="M41,110.5h4"/>
<path d="M41,176.5h4"/>
<path d="M41,242.5h4"/>
<path d="M41,308.5h4"/>
<path d="M41,375.5h4"/>
<path d="M41,441.5h4"/>
<path d="M41,507.5h4"/>
<path d="M41,573.5h4"/>
<path d="M41,639.5h4"/>
<path d="M41,705.5h4"/>
</g>
<text x="36.8" y="115.2" font-size="15.5" text-anchor="end" textLength="23.5" lengthAdjust="spacingAndGlyphs" stroke="#fff" stroke-width="0.2">22N</text>
<text x="36.8" y="181.35" font-size="15.5" text-anchor="end" textLength="35.5" lengthAdjust="spacingAndGlyphs" stroke="#fff" stroke-width="0.2">21.9N</text>
<text x="36.8" y="247.5" font-size="15.5" text-anchor="end" textLength="35.5" lengthAdjust="spacingAndGlyphs" stroke="#fff" stroke-width="0.2">21.8N</text>
<text x="36.8" y="313.65000000000003" font-size="15.5" text-anchor="end" textLength="35.5" lengthAdjust="spacingAndGlyphs" stroke="#fff" stroke-width="0.2">21.7N</text>
<text x="36.8" y="379.8" font-size="15.5" text-anchor="end" textLength="35.5" lengthAdjust="spacingAndGlyphs" stroke="#fff" stroke-width="0.2">21.6N</text>
<text x="36.8" y="445.95" font-size="15.5" text-anchor="end" textLength="35.5" lengthAdjust="spacingAndGlyphs" stroke="#fff" stroke-width="0.2">21.5N</text>
<text x="36.8" y="512.1" font-size="15.5" text-anchor="end" textLength="35.5" lengthAdjust="spacingAndGlyphs" stroke="#fff" stroke-width="0.2">21.4N</text>
<text x="36.8" y="578.2500000000001" font-size="15.5" text-anchor="end" textLength="35.5" lengthAdjust="spacingAndGlyphs" stroke="#fff" stroke-width="0.2">21.3N</text>
<text x="36.8" y="644.4000000000001" font-size="15.5" text-anchor="end" textLength="35.5" lengthAdjust="spacingAndGlyphs" stroke="#fff" stroke-width="0.2">21.2N</text>
<text x="36.8" y="710.5500000000001" font-size="15.5" text-anchor="end" textLength="35.5" lengthAdjust="spacingAndGlyphs" stroke="#fff" stroke-width="0.2">21.1N</text>
<text x="49.3" y="748.2" font-size="15.5" text-anchor="middle" textLength="37" lengthAdjust="spacingAndGlyphs" stroke="#fff" stroke-width="0.2">72.6W</text>
<text x="155.9" y="748.2" font-size="15.5" text-anchor="middle" textLength="37" lengthAdjust="spacingAndGlyphs" stroke="#fff" stroke-width="0.2">72.4W</text>
<text x="262.5" y="748.2" font-size="15.5" text-anchor="middle" textLength="37" lengthAdjust="spacingAndGlyphs" stroke="#fff" stroke-width="0.2">72.2W</text>
<text x="369.09999999999997" y="748.2" font-size="15.5" text-anchor="middle" textLength="25" lengthAdjust="spacingAndGlyphs" stroke="#fff" stroke-width="0.2">72W</text>
<text x="475.7" y="748.2" font-size="15.5" text-anchor="middle" textLength="37" lengthAdjust="spacingAndGlyphs" stroke="#fff" stroke-width="0.2">71.8W</text>
<text x="582.3" y="748.2" font-size="15.5" text-anchor="middle" textLength="37" lengthAdjust="spacingAndGlyphs" stroke="#fff" stroke-width="0.2">71.6W</text>
<text x="688.8999999999999" y="748.2" font-size="15.5" text-anchor="middle" textLength="37" lengthAdjust="spacingAndGlyphs" stroke="#fff" stroke-width="0.2">71.4W</text>
<text x="795.4999999999999" y="748.2" font-size="15.5" text-anchor="middle" textLength="37" lengthAdjust="spacingAndGlyphs" stroke="#fff" stroke-width="0.2">71.2W</text>
<text x="902.0999999999999" y="748.2" font-size="15.5" text-anchor="middle" textLength="25" lengthAdjust="spacingAndGlyphs" stroke="#fff" stroke-width="0.2">71W</text>
<text x="171.19" y="27.4" font-size="30.5" text-anchor="start" textLength="130.88" lengthAdjust="spacingAndGlyphs" stroke="#fff" stroke-width="0.75">Caribbean</text>
<text x="308.13" y="27.4" font-size="30.5" text-anchor="start" textLength="99.96" lengthAdjust="spacingAndGlyphs" stroke="#fff" stroke-width="0.75">Institute</text>
<text x="423.85" y="27.4" font-size="30.5" text-anchor="start" textLength="35.97" lengthAdjust="spacingAndGlyphs" stroke="#fff" stroke-width="0.75">for</text>
<text x="471.91" y="27.4" font-size="30.5" text-anchor="start" textLength="146.6" lengthAdjust="spacingAndGlyphs" stroke="#fff" stroke-width="0.75">Meteorology</text>
<text x="633.81" y="27.4" font-size="30.5" text-anchor="start" textLength="45.92" lengthAdjust="spacingAndGlyphs" stroke="#fff" stroke-width="0.75">and</text>
<text x="692.89" y="27.4" font-size="30.5" text-anchor="start" textLength="120.63" lengthAdjust="spacingAndGlyphs" stroke="#fff" stroke-width="0.75">Hydrology</text>
<text x="80.23" y="54.9" font-size="33.6" text-anchor="start" textLength="158.07" lengthAdjust="spacingAndGlyphs" stroke="#fff" stroke-width="0.85">Aggregated</text>
<text x="254.94" y="54.9" font-size="33.6" text-anchor="start" textLength="254.61" lengthAdjust="spacingAndGlyphs" stroke="#fff" stroke-width="0.85">precipitation(mm)</text>
<text x="527.63" y="54.9" font-size="33.6" text-anchor="start" textLength="40.55" lengthAdjust="spacingAndGlyphs" stroke="#fff" stroke-width="0.85">TCI</text>
<text x="579.95" y="54.9" font-size="33.6" text-anchor="start" textLength="68.15" lengthAdjust="spacingAndGlyphs" stroke="#fff" stroke-width="0.85">Valid</text>
<text x="664.85" y="54.9" font-size="33.6" text-anchor="start" textLength="62.24" lengthAdjust="spacingAndGlyphs" stroke="#fff" stroke-width="0.85">01Z</text>
<text x="739.28" y="54.9" font-size="33.6" text-anchor="start" textLength="90.31" lengthAdjust="spacingAndGlyphs" stroke="#fff" stroke-width="0.85">14/10</text>
<text x="845.37" y="54.9" font-size="33.6" text-anchor="start" textLength="71.75" lengthAdjust="spacingAndGlyphs" stroke="#fff" stroke-width="0.85">2014</text>
<rect x="153.30" y="765.5" width="53.63" height="18.5" fill="#aaaaaa"/>
<rect x="206.63" y="765.5" width="53.63" height="18.5" fill="#a000c8"/>
<rect x="259.96" y="765.5" width="53.63" height="18.5" fill="#8200dc"/>
<rect x="313.29" y="765.5" width="53.63" height="18.5" fill="#1e3cff"/>
<rect x="366.62" y="765.5" width="53.63" height="18.5" fill="#00a0ff"/>
<rect x="419.95" y="765.5" width="53.63" height="18.5" fill="#00c8c8"/>
<rect x="473.28" y="765.5" width="53.63" height="18.5" fill="#00d28c"/>
<rect x="526.61" y="765.5" width="53.63" height="18.5" fill="#00dc00"/>
<rect x="579.94" y="765.5" width="53.63" height="18.5" fill="#a0e632"/>
<rect x="633.27" y="765.5" width="53.63" height="18.5" fill="#e6dc32"/>
<rect x="686.60" y="765.5" width="53.63" height="18.5" fill="#e6af2d"/>
<rect x="739.93" y="765.5" width="53.63" height="18.5" fill="#f08228"/>
<rect x="793.26" y="765.5" width="53.63" height="18.5" fill="#fa3c3c"/>
<path d="M846.6,765.5L900.5,775L846.6,784Z" fill="#f00082"/>
<g stroke="#000" stroke-width="1" fill="none">
<path d="M153.3,765.5L100,775L153.3,784"/>
<rect x="153.3" y="765.5" width="693.3" height="18.5"/>
<path d="M206.6,765.5V784"/>
<path d="M260.0,765.5V784"/>
<path d="M313.3,765.5V784"/>
<path d="M366.6,765.5V784"/>
<path d="M419.9,765.5V784"/>
<path d="M473.3,765.5V784"/>
<path d="M526.6,765.5V784"/>
<path d="M579.9,765.5V784"/>
<path d="M633.3,765.5V784"/>
<path d="M686.6,765.5V784"/>
<path d="M739.9,765.5V784"/>
<path d="M793.3,765.5V784"/>
<path d="M846.6,765.5L900.5,775L846.6,784"/>
</g>
<text x="153.3" y="802.5" font-size="18" text-anchor="middle" stroke="#fff" stroke-width="0.35">1</text>
<text x="206.6" y="802.5" font-size="18" text-anchor="middle" textLength="10" lengthAdjust="spacingAndGlyphs" stroke="#fff" stroke-width="0.35">5</text>
<text x="260.0" y="802.5" font-size="18" text-anchor="middle" textLength="22" lengthAdjust="spacingAndGlyphs" stroke="#fff" stroke-width="0.35">10</text>
<text x="313.3" y="802.5" font-size="18" text-anchor="middle" textLength="22" lengthAdjust="spacingAndGlyphs" stroke="#fff" stroke-width="0.35">15</text>
<text x="366.6" y="802.5" font-size="18" text-anchor="middle" textLength="22" lengthAdjust="spacingAndGlyphs" stroke="#fff" stroke-width="0.35">20</text>
<text x="419.9" y="802.5" font-size="18" text-anchor="middle" textLength="22" lengthAdjust="spacingAndGlyphs" stroke="#fff" stroke-width="0.35">25</text>
<text x="473.3" y="802.5" font-size="18" text-anchor="middle" textLength="22" lengthAdjust="spacingAndGlyphs" stroke="#fff" stroke-width="0.35">30</text>
<text x="526.6" y="802.5" font-size="18" text-anchor="middle" textLength="22" lengthAdjust="spacingAndGlyphs" stroke="#fff" stroke-width="0.35">50</text>
<text x="579.9" y="802.5" font-size="18" text-anchor="middle" textLength="22" lengthAdjust="spacingAndGlyphs" stroke="#fff" stroke-width="0.35">80</text>
<text x="633.3" y="802.5" font-size="18" text-anchor="middle" textLength="32.7" lengthAdjust="spacingAndGlyphs" stroke="#fff" stroke-width="0.35">110</text>
<text x="686.6" y="802.5" font-size="18" text-anchor="middle" textLength="32.7" lengthAdjust="spacingAndGlyphs" stroke="#fff" stroke-width="0.35">140</text>
<text x="739.9" y="802.5" font-size="18" text-anchor="middle" textLength="32.7" lengthAdjust="spacingAndGlyphs" stroke="#fff" stroke-width="0.35">180</text>
<text x="793.3" y="802.5" font-size="18" text-anchor="middle" textLength="32.7" lengthAdjust="spacingAndGlyphs" stroke="#fff" stroke-width="0.35">220</text>
<text x="846.6" y="802.5" font-size="18" text-anchor="middle" textLength="32.7" lengthAdjust="spacingAndGlyphs" stroke="#fff" stroke-width="0.35">250</text>
</svg></body></html>
